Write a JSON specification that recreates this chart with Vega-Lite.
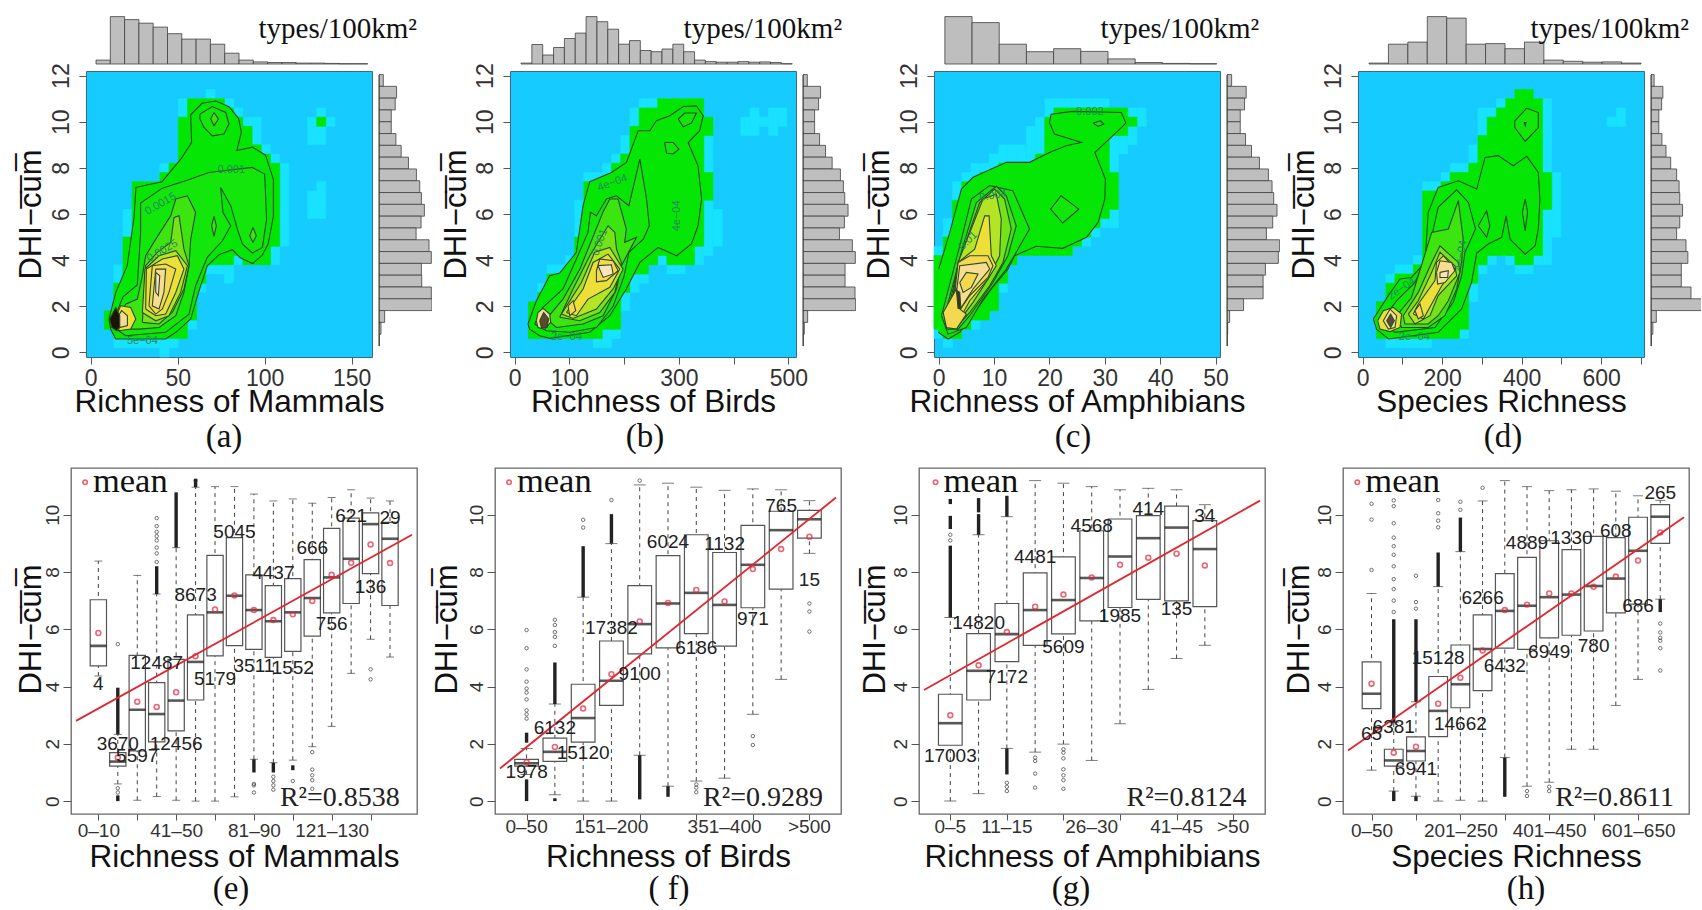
{"$schema":"https://vega.github.io/schema/vega-lite/v6.json","padding":{"left":14,"top":4,"right":0,"bottom":0},"background":"white","config":{"font":"Liberation Sans","view":{"stroke":null},"axis":{"grid":false,"domain":false,"labelColor":"#333","tickColor":"#555","titleColor":"#111","labelOverlap":false,"titleFontWeight":"normal","labelFlush":false},"title":{"fontWeight":"normal","color":"#111"}},
"datasets":{
"ha":[{"i":3,"a":1,"b":10,"v":1},{"i":4,"a":1,"b":16,"v":1},{"i":5,"a":1,"b":19,"v":1},{"i":6,"a":1,"b":19,"v":1},{"i":7,"a":1,"b":19,"v":1},{"i":8,"a":0,"b":21,"v":1},{"i":9,"a":1,"b":21,"v":1},{"i":10,"a":2,"b":28,"v":1},{"i":11,"a":3,"b":28,"v":1},{"i":12,"a":7,"b":28,"v":1},{"i":13,"a":9,"b":29,"v":1},{"i":14,"a":9,"b":28,"v":1},{"i":15,"a":8,"b":28,"v":1},{"i":16,"a":10,"b":27,"v":1},{"i":17,"a":10,"b":26,"v":1},{"i":18,"a":10,"b":26,"v":1},{"i":19,"a":10,"b":23,"v":1},{"i":20,"a":10,"b":22,"v":1},{"i":21,"a":12,"b":21,"v":1},{"i":24,"a":15,"b":18,"v":1},{"i":24,"a":23,"b":26,"v":1},{"i":25,"a":15,"b":19,"v":1},{"i":25,"a":23,"b":27,"v":1},{"i":26,"a":25,"b":26,"v":1},{"i":2,"a":3,"b":5,"v":2},{"i":3,"a":2,"b":8,"v":2},{"i":4,"a":2,"b":13,"v":2},{"i":5,"a":2,"b":19,"v":2},{"i":6,"a":2,"b":19,"v":2},{"i":7,"a":2,"b":19,"v":2},{"i":8,"a":2,"b":20,"v":2},{"i":9,"a":2,"b":21,"v":2},{"i":10,"a":2,"b":26,"v":2},{"i":11,"a":4,"b":28,"v":2},{"i":12,"a":8,"b":28,"v":2},{"i":13,"a":10,"b":28,"v":2},{"i":14,"a":10,"b":28,"v":2},{"i":15,"a":10,"b":27,"v":2},{"i":16,"a":11,"b":26,"v":2},{"i":17,"a":10,"b":25,"v":2},{"i":18,"a":10,"b":23,"v":2},{"i":19,"a":10,"b":22,"v":2},{"i":20,"a":12,"b":21,"v":2},{"i":25,"a":25,"b":26,"v":2}],
"hb":[{"i":3,"a":2,"b":8,"v":1},{"i":4,"a":2,"b":10,"v":1},{"i":5,"a":2,"b":10,"v":1},{"i":6,"a":2,"b":11,"v":1},{"i":7,"a":2,"b":17,"v":1},{"i":8,"a":2,"b":20,"v":1},{"i":9,"a":1,"b":20,"v":1},{"i":10,"a":1,"b":21,"v":1},{"i":11,"a":2,"b":22,"v":1},{"i":12,"a":5,"b":24,"v":1},{"i":13,"a":7,"b":27,"v":1},{"i":14,"a":8,"b":28,"v":1},{"i":15,"a":10,"b":28,"v":1},{"i":16,"a":10,"b":28,"v":1},{"i":17,"a":9,"b":28,"v":1},{"i":18,"a":9,"b":28,"v":1},{"i":19,"a":10,"b":28,"v":1},{"i":20,"a":10,"b":27,"v":1},{"i":21,"a":11,"b":26,"v":1},{"i":22,"a":12,"b":16,"v":1},{"i":25,"a":24,"b":26,"v":1},{"i":26,"a":24,"b":27,"v":1},{"i":27,"a":25,"b":26,"v":1},{"i":28,"a":24,"b":27,"v":1},{"i":29,"a":25,"b":27,"v":1},{"i":2,"a":2,"b":6,"v":2},{"i":3,"a":2,"b":7,"v":2},{"i":4,"a":2,"b":9,"v":2},{"i":5,"a":2,"b":9,"v":2},{"i":6,"a":2,"b":10,"v":2},{"i":7,"a":2,"b":13,"v":2},{"i":8,"a":2,"b":19,"v":2},{"i":9,"a":2,"b":19,"v":2},{"i":10,"a":3,"b":19,"v":2},{"i":11,"a":3,"b":21,"v":2},{"i":12,"a":7,"b":22,"v":2},{"i":13,"a":9,"b":25,"v":2},{"i":14,"a":9,"b":27,"v":2},{"i":15,"a":10,"b":27,"v":2},{"i":16,"a":11,"b":28,"v":2},{"i":17,"a":10,"b":28,"v":2},{"i":18,"a":10,"b":28,"v":2},{"i":19,"a":10,"b":28,"v":2},{"i":20,"a":12,"b":28,"v":2},{"i":21,"a":17,"b":20,"v":2},{"i":21,"a":24,"b":26,"v":2}],
"hc":[{"i":0,"a":2,"b":12,"v":1},{"i":1,"a":1,"b":15,"v":1},{"i":2,"a":2,"b":19,"v":1},{"i":3,"a":3,"b":20,"v":1},{"i":4,"a":3,"b":21,"v":1},{"i":5,"a":4,"b":21,"v":1},{"i":6,"a":5,"b":22,"v":1},{"i":7,"a":7,"b":23,"v":1},{"i":8,"a":10,"b":23,"v":1},{"i":9,"a":11,"b":23,"v":1},{"i":10,"a":11,"b":25,"v":1},{"i":11,"a":11,"b":26,"v":1},{"i":12,"a":11,"b":28,"v":1},{"i":13,"a":11,"b":28,"v":1},{"i":14,"a":11,"b":28,"v":1},{"i":15,"a":12,"b":28,"v":1},{"i":16,"a":12,"b":28,"v":1},{"i":17,"a":13,"b":28,"v":1},{"i":18,"a":14,"b":28,"v":1},{"i":19,"a":14,"b":27,"v":1},{"i":20,"a":22,"b":27,"v":1},{"i":21,"a":23,"b":27,"v":1},{"i":22,"a":25,"b":27,"v":1},{"i":0,"a":3,"b":11,"v":2},{"i":1,"a":2,"b":13,"v":2},{"i":2,"a":2,"b":17,"v":2},{"i":3,"a":3,"b":19,"v":2},{"i":4,"a":4,"b":19,"v":2},{"i":5,"a":4,"b":20,"v":2},{"i":6,"a":5,"b":20,"v":2},{"i":7,"a":8,"b":21,"v":2},{"i":8,"a":10,"b":21,"v":2},{"i":9,"a":11,"b":21,"v":2},{"i":10,"a":11,"b":21,"v":2},{"i":11,"a":11,"b":22,"v":2},{"i":12,"a":11,"b":26,"v":2},{"i":13,"a":11,"b":27,"v":2},{"i":14,"a":11,"b":27,"v":2},{"i":15,"a":12,"b":27,"v":2},{"i":16,"a":13,"b":27,"v":2},{"i":17,"a":14,"b":27,"v":2},{"i":18,"a":15,"b":27,"v":2},{"i":19,"a":16,"b":20,"v":2},{"i":19,"a":24,"b":27,"v":2},{"i":20,"a":24,"b":27,"v":2},{"i":21,"a":25,"b":26,"v":2}],
"hd":[{"i":3,"a":1,"b":9,"v":1},{"i":4,"a":1,"b":10,"v":1},{"i":5,"a":1,"b":10,"v":1},{"i":6,"a":1,"b":11,"v":1},{"i":7,"a":1,"b":19,"v":1},{"i":8,"a":2,"b":19,"v":1},{"i":9,"a":2,"b":20,"v":1},{"i":10,"a":2,"b":21,"v":1},{"i":11,"a":2,"b":21,"v":1},{"i":12,"a":6,"b":23,"v":1},{"i":13,"a":9,"b":27,"v":1},{"i":14,"a":10,"b":27,"v":1},{"i":15,"a":11,"b":28,"v":1},{"i":16,"a":10,"b":28,"v":1},{"i":17,"a":9,"b":29,"v":1},{"i":18,"a":9,"b":29,"v":1},{"i":19,"a":10,"b":28,"v":1},{"i":20,"a":10,"b":28,"v":1},{"i":21,"a":13,"b":20,"v":1},{"i":27,"a":25,"b":26,"v":1},{"i":28,"a":25,"b":27,"v":1},{"i":2,"a":2,"b":6,"v":2},{"i":3,"a":2,"b":8,"v":2},{"i":4,"a":2,"b":9,"v":2},{"i":5,"a":2,"b":9,"v":2},{"i":6,"a":2,"b":10,"v":2},{"i":7,"a":2,"b":18,"v":2},{"i":8,"a":2,"b":18,"v":2},{"i":9,"a":2,"b":19,"v":2},{"i":10,"a":2,"b":20,"v":2},{"i":11,"a":3,"b":20,"v":2},{"i":12,"a":8,"b":21,"v":2},{"i":13,"a":10,"b":24,"v":2},{"i":14,"a":11,"b":26,"v":2},{"i":15,"a":11,"b":27,"v":2},{"i":16,"a":11,"b":28,"v":2},{"i":17,"a":10,"b":29,"v":2},{"i":18,"a":10,"b":29,"v":2},{"i":19,"a":11,"b":28,"v":2},{"i":20,"a":16,"b":20,"v":2}],
"ca":[{"p":1,"l":1,"x":10.5,"y":1.45},{"p":1,"l":1,"x":14.4,"y":2.6},{"p":1,"l":1,"x":21,"y":3.76},{"p":1,"l":1,"x":25,"y":5.9},{"p":1,"l":1,"x":26,"y":7.15},{"p":1,"l":1,"x":31.6,"y":7.25},{"p":1,"l":1,"x":41,"y":7.4},{"p":1,"l":1,"x":52,"y":8.4},{"p":1,"l":1,"x":58,"y":9.1},{"p":1,"l":1,"x":57.5,"y":10.3},{"p":1,"l":1,"x":64,"y":10.8},{"p":1,"l":1,"x":72,"y":10.9},{"p":1,"l":1,"x":79.5,"y":10.65},{"p":1,"l":1,"x":85,"y":10.15},{"p":1,"l":1,"x":86.6,"y":9.55},{"p":1,"l":1,"x":84,"y":8.75},{"p":1,"l":1,"x":93,"y":8.9},{"p":1,"l":1,"x":100.5,"y":8.55},{"p":1,"l":1,"x":105,"y":7.5},{"p":1,"l":1,"x":105,"y":5.9},{"p":1,"l":1,"x":102,"y":4.7},{"p":1,"l":1,"x":98.5,"y":4.2},{"p":1,"l":1,"x":93,"y":3.85},{"p":1,"l":1,"x":86,"y":4.1},{"p":1,"l":1,"x":81.5,"y":4.45},{"p":1,"l":1,"x":74,"y":4.25},{"p":1,"l":1,"x":67,"y":3.75},{"p":1,"l":1,"x":62,"y":2.6},{"p":1,"l":1,"x":57.5,"y":1.45},{"p":1,"l":1,"x":49,"y":0.87},{"p":1,"l":1,"x":43,"y":0.58},{"p":1,"l":1,"x":14.4,"y":0.58},{"p":1,"l":1,"x":11.5,"y":1},{"p":1,"l":1,"x":10.5,"y":1.45},
{"p":2,"l":2,"x":13.4,"y":1.45},{"p":2,"l":2,"x":18.6,"y":2.41},{"p":2,"l":2,"x":26.8,"y":2.92},{"p":2,"l":2,"x":28.7,"y":5.2},{"p":2,"l":2,"x":28.7,"y":6.47},{"p":2,"l":2,"x":41.2,"y":7.12},{"p":2,"l":2,"x":54.6,"y":7.44},{"p":2,"l":2,"x":68,"y":7.8},{"p":2,"l":2,"x":92.9,"y":8.02},{"p":2,"l":2,"x":100,"y":7.73},{"p":2,"l":2,"x":101.1,"y":5.78},{"p":2,"l":2,"x":98.7,"y":4.55},{"p":2,"l":2,"x":92.9,"y":4.31},{"p":2,"l":2,"x":87.2,"y":4.7},{"p":2,"l":2,"x":84.3,"y":5.35},{"p":2,"l":2,"x":80.5,"y":6.36},{"p":2,"l":2,"x":74.7,"y":7.15},{"p":2,"l":2,"x":76,"y":6.07},{"p":2,"l":2,"x":80.5,"y":5.49},{"p":2,"l":2,"x":75.7,"y":4.84},{"p":2,"l":2,"x":67,"y":4.12},{"p":2,"l":2,"x":60.3,"y":2.89},{"p":2,"l":2,"x":56.5,"y":1.66},{"p":2,"l":2,"x":43.1,"y":0.87},{"p":2,"l":2,"x":20.1,"y":0.72},{"p":2,"l":2,"x":13.4,"y":1.08},{"p":2,"l":2,"x":13.4,"y":1.45},
{"p":3,"l":2,"x":62.8,"y":10.33},{"p":3,"l":2,"x":69.9,"y":10.66},{"p":3,"l":2,"x":77.6,"y":10.4},{"p":3,"l":2,"x":79.5,"y":9.9},{"p":3,"l":2,"x":76.6,"y":9.47},{"p":3,"l":2,"x":69.9,"y":9.39},{"p":3,"l":2,"x":65.1,"y":9.75},{"p":3,"l":2,"x":62.8,"y":10.12},{"p":3,"l":2,"x":62.8,"y":10.33},
{"p":4,"l":3,"x":70.9,"y":10.4},{"p":4,"l":3,"x":73.4,"y":10.12},{"p":4,"l":3,"x":70.9,"y":9.83},{"p":4,"l":3,"x":69,"y":10.12},{"p":4,"l":3,"x":70.9,"y":10.4},
{"p":5,"l":3,"x":70.9,"y":5.9},{"p":5,"l":3,"x":72.2,"y":5.49},{"p":5,"l":3,"x":70.9,"y":5.03},{"p":5,"l":3,"x":69.5,"y":5.49},{"p":5,"l":3,"x":70.9,"y":5.9},
{"p":6,"l":3,"x":93.3,"y":5.42},{"p":6,"l":3,"x":95.2,"y":5.06},{"p":6,"l":3,"x":93.3,"y":4.77},{"p":6,"l":3,"x":91.4,"y":5.06},{"p":6,"l":3,"x":93.3,"y":5.42},
{"p":7,"l":3,"x":16.3,"y":1.59},{"p":7,"l":3,"x":20.1,"y":2.09},{"p":7,"l":3,"x":26.8,"y":2.31},{"p":7,"l":3,"x":29.7,"y":3.32},{"p":7,"l":3,"x":31.6,"y":4.19},{"p":7,"l":3,"x":37.4,"y":4.91},{"p":7,"l":3,"x":46,"y":5.92},{"p":7,"l":3,"x":48.9,"y":6.65},{"p":7,"l":3,"x":55.6,"y":6.79},{"p":7,"l":3,"x":60.3,"y":6.07},{"p":7,"l":3,"x":57.5,"y":4.91},{"p":7,"l":3,"x":56.5,"y":3.76},{"p":7,"l":3,"x":53.6,"y":2.6},{"p":7,"l":3,"x":48.9,"y":1.59},{"p":7,"l":3,"x":39.3,"y":1.08},{"p":7,"l":3,"x":27.8,"y":1.01},{"p":7,"l":3,"x":19.2,"y":1.01},{"p":7,"l":3,"x":16.3,"y":1.59},
{"p":8,"l":4,"x":29.7,"y":1.3},{"p":8,"l":4,"x":30.7,"y":2.6},{"p":8,"l":4,"x":31.6,"y":3.76},{"p":8,"l":4,"x":38.3,"y":4.34},{"p":8,"l":4,"x":46,"y":4.77},{"p":8,"l":4,"x":47.9,"y":5.85},{"p":8,"l":4,"x":50.8,"y":5.92},{"p":8,"l":4,"x":53.6,"y":4.48},{"p":8,"l":4,"x":56.5,"y":3.76},{"p":8,"l":4,"x":53.6,"y":2.75},{"p":8,"l":4,"x":46.9,"y":1.73},{"p":8,"l":4,"x":39.3,"y":1.23},{"p":8,"l":4,"x":29.7,"y":1.3},
{"p":9,"l":5,"x":29.7,"y":1.73},{"p":9,"l":5,"x":31.2,"y":3.61},{"p":9,"l":5,"x":39.3,"y":4.19},{"p":9,"l":5,"x":48.9,"y":4.41},{"p":9,"l":5,"x":55.6,"y":3.76},{"p":9,"l":5,"x":51.7,"y":2.6},{"p":9,"l":5,"x":45,"y":1.59},{"p":9,"l":5,"x":37.4,"y":1.37},{"p":9,"l":5,"x":29.7,"y":1.73},
{"p":10,"l":6,"x":31.6,"y":1.88},{"p":10,"l":6,"x":32,"y":3.61},{"p":10,"l":6,"x":41.2,"y":4.05},{"p":10,"l":6,"x":49.8,"y":4.19},{"p":10,"l":6,"x":53.6,"y":3.61},{"p":10,"l":6,"x":48.9,"y":2.6},{"p":10,"l":6,"x":43.1,"y":1.66},{"p":10,"l":6,"x":37.4,"y":1.59},{"p":10,"l":6,"x":31.6,"y":1.88},
{"p":11,"l":7,"x":33.5,"y":2.02},{"p":11,"l":7,"x":35.4,"y":3.76},{"p":11,"l":7,"x":43.1,"y":3.83},{"p":11,"l":7,"x":48.9,"y":3.61},{"p":11,"l":7,"x":45,"y":2.6},{"p":11,"l":7,"x":41.2,"y":1.88},{"p":11,"l":7,"x":37.4,"y":1.66},{"p":11,"l":7,"x":33.5,"y":2.02},
{"p":12,"l":8,"x":37.4,"y":3.61},{"p":12,"l":8,"x":43.1,"y":3.61},{"p":12,"l":8,"x":42.1,"y":2.6},{"p":12,"l":8,"x":39.3,"y":1.88},{"p":12,"l":8,"x":35.4,"y":2.02},{"p":12,"l":8,"x":37.4,"y":3.61},
{"p":13,"l":9,"x":37.4,"y":3.47},{"p":13,"l":9,"x":39.7,"y":3.32},{"p":13,"l":9,"x":38.9,"y":2.46},{"p":13,"l":9,"x":37.4,"y":2.6},{"p":13,"l":9,"x":37.4,"y":3.47},
{"p":14,"l":6,"x":14.4,"y":1.52},{"p":14,"l":6,"x":17.2,"y":2.02},{"p":14,"l":6,"x":23,"y":1.95},{"p":14,"l":6,"x":25.9,"y":1.45},{"p":14,"l":6,"x":23,"y":1.01},{"p":14,"l":6,"x":16.3,"y":0.94},{"p":14,"l":6,"x":14.4,"y":1.52},
{"p":15,"l":8,"x":15.3,"y":1.52},{"p":15,"l":8,"x":17.8,"y":1.81},{"p":15,"l":8,"x":21.1,"y":1.59},{"p":15,"l":8,"x":21.1,"y":1.16},{"p":15,"l":8,"x":16.7,"y":1.08},{"p":15,"l":8,"x":15.3,"y":1.52},
{"p":16,"l":10,"x":10.9,"y":1.45},{"p":16,"l":10,"x":14.4,"y":1.95},{"p":16,"l":10,"x":16.7,"y":1.59},{"p":16,"l":10,"x":16.7,"y":1.08},{"p":16,"l":10,"x":14.8,"y":0.94},{"p":16,"l":10,"x":12.1,"y":1.08},{"p":16,"l":10,"x":10.9,"y":1.45}],
"cb":[{"p":1,"l":1,"x":24.4,"y":1.23},{"p":1,"l":1,"x":39.6,"y":2.24},{"p":1,"l":1,"x":64,"y":3.32},{"p":1,"l":1,"x":82.3,"y":3.44},{"p":1,"l":1,"x":112.8,"y":4.34},{"p":1,"l":1,"x":125,"y":6.36},{"p":1,"l":1,"x":137.2,"y":7.4},{"p":1,"l":1,"x":176.8,"y":7.8},{"p":1,"l":1,"x":204.3,"y":8.24},{"p":1,"l":1,"x":225.6,"y":9.61},{"p":1,"l":1,"x":247,"y":9.61},{"p":1,"l":1,"x":259,"y":10.04},{"p":1,"l":1,"x":283.5,"y":10.26},{"p":1,"l":1,"x":308,"y":10.66},{"p":1,"l":1,"x":332,"y":10.69},{"p":1,"l":1,"x":344.5,"y":10.26},{"p":1,"l":1,"x":338,"y":9.61},{"p":1,"l":1,"x":317,"y":9.1},{"p":1,"l":1,"x":335,"y":8.09},{"p":1,"l":1,"x":341.5,"y":6.65},{"p":1,"l":1,"x":335,"y":5.49},{"p":1,"l":1,"x":323,"y":4.7},{"p":1,"l":1,"x":296,"y":4.19},{"p":1,"l":1,"x":262,"y":4.55},{"p":1,"l":1,"x":228.7,"y":3.9},{"p":1,"l":1,"x":204,"y":2.75},{"p":1,"l":1,"x":173.8,"y":1.59},{"p":1,"l":1,"x":137,"y":0.87},{"p":1,"l":1,"x":64,"y":0.61},{"p":1,"l":1,"x":45.7,"y":0.72},{"p":1,"l":1,"x":27.4,"y":1.01},{"p":1,"l":1,"x":24.4,"y":1.23},
{"p":2,"l":2,"x":298.8,"y":10.12},{"p":2,"l":2,"x":311,"y":10.38},{"p":2,"l":2,"x":332,"y":10.38},{"p":2,"l":2,"x":323,"y":9.94},{"p":2,"l":2,"x":308,"y":9.78},{"p":2,"l":2,"x":298.8,"y":10.12},
{"p":3,"l":2,"x":274,"y":9.1},{"p":3,"l":2,"x":289.6,"y":9.1},{"p":3,"l":2,"x":300,"y":8.81},{"p":3,"l":2,"x":289.6,"y":8.6},{"p":3,"l":2,"x":277.4,"y":8.64},{"p":3,"l":2,"x":274,"y":9.1},
{"p":4,"l":2,"x":36.6,"y":1.23},{"p":4,"l":2,"x":51.8,"y":1.95},{"p":4,"l":2,"x":88.4,"y":2.75},{"p":4,"l":2,"x":112.8,"y":4.05},{"p":4,"l":2,"x":134,"y":5.2},{"p":4,"l":2,"x":138.4,"y":6.07},{"p":4,"l":2,"x":149.4,"y":5.92},{"p":4,"l":2,"x":167.7,"y":6.65},{"p":4,"l":2,"x":186,"y":6.79},{"p":4,"l":2,"x":208.7,"y":6.36},{"p":4,"l":2,"x":228.7,"y":8.38},{"p":4,"l":2,"x":241,"y":6.65},{"p":4,"l":2,"x":246,"y":5.49},{"p":4,"l":2,"x":235,"y":4.91},{"p":4,"l":2,"x":208.7,"y":4.34},{"p":4,"l":2,"x":200,"y":3.32},{"p":4,"l":2,"x":179.9,"y":2},{"p":4,"l":2,"x":149.4,"y":1.08},{"p":4,"l":2,"x":100.6,"y":0.87},{"p":4,"l":2,"x":57.9,"y":0.94},{"p":4,"l":2,"x":36.6,"y":1.23},
{"p":5,"l":3,"x":57.9,"y":1.45},{"p":5,"l":3,"x":88.4,"y":2.31},{"p":5,"l":3,"x":119,"y":3.6},{"p":5,"l":3,"x":146.3,"y":5.2},{"p":5,"l":3,"x":161.6,"y":6.1},{"p":5,"l":3,"x":173.8,"y":6.65},{"p":5,"l":3,"x":189,"y":6.65},{"p":5,"l":3,"x":204,"y":5.35},{"p":5,"l":3,"x":201,"y":4.77},{"p":5,"l":3,"x":222.6,"y":4.99},{"p":5,"l":3,"x":195,"y":3.76},{"p":5,"l":3,"x":186,"y":2.75},{"p":5,"l":3,"x":161.6,"y":1.59},{"p":5,"l":3,"x":125,"y":1.23},{"p":5,"l":3,"x":76.2,"y":1.08},{"p":5,"l":3,"x":57.9,"y":1.45},
{"p":6,"l":4,"x":82.3,"y":1.52},{"p":6,"l":4,"x":106.7,"y":2.75},{"p":6,"l":4,"x":137.2,"y":4.19},{"p":6,"l":4,"x":170.7,"y":5.49},{"p":6,"l":4,"x":183,"y":5.2},{"p":6,"l":4,"x":186,"y":4.48},{"p":6,"l":4,"x":195,"y":3.9},{"p":6,"l":4,"x":183,"y":2.6},{"p":6,"l":4,"x":155.5,"y":1.73},{"p":6,"l":4,"x":118.9,"y":1.37},{"p":6,"l":4,"x":82.3,"y":1.52},
{"p":7,"l":5,"x":85.4,"y":1.66},{"p":7,"l":5,"x":122,"y":3.03},{"p":7,"l":5,"x":146.3,"y":4.34},{"p":7,"l":5,"x":173.8,"y":4.55},{"p":7,"l":5,"x":198,"y":3.61},{"p":7,"l":5,"x":179.9,"y":2.75},{"p":7,"l":5,"x":149.4,"y":1.88},{"p":7,"l":5,"x":106.7,"y":1.47},{"p":7,"l":5,"x":85.4,"y":1.66},
{"p":8,"l":6,"x":94.5,"y":1.73},{"p":8,"l":6,"x":125,"y":2.75},{"p":8,"l":6,"x":143.3,"y":3.9},{"p":8,"l":6,"x":170.7,"y":4.26},{"p":8,"l":6,"x":192,"y":3.61},{"p":8,"l":6,"x":173.8,"y":2.82},{"p":8,"l":6,"x":134,"y":2.31},{"p":8,"l":6,"x":112.8,"y":1.59},{"p":8,"l":6,"x":94.5,"y":1.73},
{"p":9,"l":7,"x":149.4,"y":3.54},{"p":9,"l":7,"x":155.5,"y":4.05},{"p":9,"l":7,"x":180,"y":3.97},{"p":9,"l":7,"x":189,"y":3.54},{"p":9,"l":7,"x":167.7,"y":3.11},{"p":9,"l":7,"x":149.4,"y":3.06},{"p":9,"l":7,"x":149.4,"y":3.54},
{"p":10,"l":9,"x":152.4,"y":3.76},{"p":10,"l":9,"x":176.8,"y":3.8},{"p":10,"l":9,"x":179.9,"y":3.4},{"p":10,"l":9,"x":161.6,"y":3.25},{"p":10,"l":9,"x":152.4,"y":3.76},
{"p":11,"l":7,"x":97.6,"y":2.02},{"p":11,"l":7,"x":106.7,"y":2.24},{"p":11,"l":7,"x":111.6,"y":1.81},{"p":11,"l":7,"x":100.6,"y":1.59},{"p":11,"l":7,"x":97.6,"y":2.02},
{"p":12,"l":8,"x":39.6,"y":1.37},{"p":12,"l":8,"x":42.7,"y":1.73},{"p":12,"l":8,"x":51.8,"y":1.91},{"p":12,"l":8,"x":64,"y":1.66},{"p":12,"l":8,"x":65.9,"y":1.3},{"p":12,"l":8,"x":54.9,"y":1.01},{"p":12,"l":8,"x":42.7,"y":1.08},{"p":12,"l":8,"x":39.6,"y":1.37},
{"p":13,"l":10,"x":45.7,"y":1.37},{"p":13,"l":10,"x":53,"y":1.73},{"p":13,"l":10,"x":62.2,"y":1.45},{"p":13,"l":10,"x":59.1,"y":1.08},{"p":13,"l":10,"x":48.8,"y":1.08},{"p":13,"l":10,"x":45.7,"y":1.37}],
"cc":[{"p":1,"l":1,"x":-0.1,"y":0.87},{"p":1,"l":1,"x":1.7,"y":0.58},{"p":1,"l":1,"x":3.8,"y":0.87},{"p":1,"l":1,"x":6.5,"y":1.73},{"p":1,"l":1,"x":9.5,"y":2.75},{"p":1,"l":1,"x":12.5,"y":3.61},{"p":1,"l":1,"x":13.7,"y":4.19},{"p":1,"l":1,"x":17.6,"y":4.6},{"p":1,"l":1,"x":22.4,"y":4.51},{"p":1,"l":1,"x":26.7,"y":4.99},{"p":1,"l":1,"x":28.8,"y":5.64},{"p":1,"l":1,"x":30,"y":6.65},{"p":1,"l":1,"x":30.1,"y":7.51},{"p":1,"l":1,"x":28.2,"y":8.67},{"p":1,"l":1,"x":32.1,"y":9.54},{"p":1,"l":1,"x":33.8,"y":9.94},{"p":1,"l":1,"x":33,"y":10.4},{"p":1,"l":1,"x":24.2,"y":10.45},{"p":1,"l":1,"x":20.3,"y":10.33},{"p":1,"l":1,"x":20,"y":9.97},{"p":1,"l":1,"x":20.9,"y":9.47},{"p":1,"l":1,"x":25.8,"y":9.1},{"p":1,"l":1,"x":23,"y":8.96},{"p":1,"l":1,"x":20,"y":8.67},{"p":1,"l":1,"x":16.4,"y":8.24},{"p":1,"l":1,"x":12.2,"y":8.24},{"p":1,"l":1,"x":9.8,"y":7.98},{"p":1,"l":1,"x":6.2,"y":7.59},{"p":1,"l":1,"x":4.1,"y":7.08},{"p":1,"l":1,"x":2,"y":5.2},{"p":1,"l":1,"x":0,"y":3.61},
{"p":2,"l":2,"x":20.2,"y":6.21},{"p":2,"l":2,"x":22.1,"y":6.79},{"p":2,"l":2,"x":25.3,"y":6.21},{"p":2,"l":2,"x":22.4,"y":5.61},{"p":2,"l":2,"x":20.2,"y":6.21},
{"p":3,"l":2,"x":27.9,"y":9.94},{"p":3,"l":2,"x":29.2,"y":10.04},{"p":3,"l":2,"x":29.8,"y":9.9},{"p":3,"l":2,"x":28.8,"y":9.8},{"p":3,"l":2,"x":27.9,"y":9.94},
{"p":4,"l":2,"x":0.5,"y":1.59},{"p":4,"l":2,"x":3.8,"y":4.62},{"p":4,"l":2,"x":5.9,"y":6.65},{"p":4,"l":2,"x":9.2,"y":7.23},{"p":4,"l":2,"x":13.4,"y":7.01},{"p":4,"l":2,"x":16.4,"y":5.35},{"p":4,"l":2,"x":14,"y":4.34},{"p":4,"l":2,"x":12.2,"y":3.61},{"p":4,"l":2,"x":8,"y":2.31},{"p":4,"l":2,"x":5,"y":1.08},{"p":4,"l":2,"x":1.7,"y":0.79},{"p":4,"l":2,"x":0.5,"y":1.59},
{"p":5,"l":3,"x":1.1,"y":1.59},{"p":5,"l":3,"x":4.4,"y":4.62},{"p":5,"l":3,"x":6.8,"y":6.5},{"p":5,"l":3,"x":10.4,"y":7.2},{"p":5,"l":3,"x":12.2,"y":6.79},{"p":5,"l":3,"x":14,"y":5.49},{"p":5,"l":3,"x":12.5,"y":4.19},{"p":5,"l":3,"x":9.8,"y":3.03},{"p":5,"l":3,"x":5.6,"y":1.59},{"p":5,"l":3,"x":3.5,"y":1.01},{"p":5,"l":3,"x":1.4,"y":1.01},{"p":5,"l":3,"x":1.1,"y":1.59},
{"p":6,"l":4,"x":1.5,"y":1.59},{"p":6,"l":4,"x":3.8,"y":4.05},{"p":6,"l":4,"x":7.4,"y":6.5},{"p":6,"l":4,"x":10.1,"y":7.08},{"p":6,"l":4,"x":11.9,"y":6.65},{"p":6,"l":4,"x":13.1,"y":5.35},{"p":6,"l":4,"x":11.6,"y":3.9},{"p":6,"l":4,"x":9.2,"y":2.89},{"p":6,"l":4,"x":5.6,"y":1.73},{"p":6,"l":4,"x":3.2,"y":1.08},{"p":6,"l":4,"x":1.5,"y":1.59},
{"p":7,"l":5,"x":2,"y":1.59},{"p":7,"l":5,"x":3.5,"y":3.9},{"p":7,"l":5,"x":8,"y":6.65},{"p":7,"l":5,"x":10.4,"y":6.86},{"p":7,"l":5,"x":11.3,"y":5.78},{"p":7,"l":5,"x":11,"y":4.19},{"p":7,"l":5,"x":8.9,"y":3.18},{"p":7,"l":5,"x":6.2,"y":2.17},{"p":7,"l":5,"x":3.5,"y":1.3},{"p":7,"l":5,"x":2,"y":1.59},
{"p":8,"l":6,"x":2.3,"y":1.66},{"p":8,"l":6,"x":3.5,"y":3.9},{"p":8,"l":6,"x":6.5,"y":4.48},{"p":8,"l":6,"x":8.3,"y":5.92},{"p":8,"l":6,"x":9.1,"y":5.92},{"p":8,"l":6,"x":9.5,"y":4.19},{"p":8,"l":6,"x":10.4,"y":3.76},{"p":8,"l":6,"x":8.9,"y":3.18},{"p":8,"l":6,"x":5.6,"y":2.24},{"p":8,"l":6,"x":3.8,"y":1.45},{"p":8,"l":6,"x":2.3,"y":1.66},
{"p":9,"l":7,"x":2.6,"y":1.88},{"p":9,"l":7,"x":3.5,"y":3.9},{"p":9,"l":7,"x":5.6,"y":4.19},{"p":9,"l":7,"x":8.9,"y":4.19},{"p":9,"l":7,"x":9.8,"y":3.76},{"p":9,"l":7,"x":8.9,"y":3.25},{"p":9,"l":7,"x":5.6,"y":2.46},{"p":9,"l":7,"x":3.5,"y":1.73},{"p":9,"l":7,"x":2.6,"y":1.88},
{"p":10,"l":8,"x":2.9,"y":2.02},{"p":10,"l":8,"x":3.8,"y":3.76},{"p":10,"l":8,"x":8.6,"y":3.9},{"p":10,"l":8,"x":9.2,"y":3.61},{"p":10,"l":8,"x":6.2,"y":2.75},{"p":10,"l":8,"x":4.1,"y":1.95},{"p":10,"l":8,"x":2.9,"y":2.02},
{"p":11,"l":7,"x":3.8,"y":3.03},{"p":11,"l":7,"x":5,"y":3.47},{"p":11,"l":7,"x":7.1,"y":3.4},{"p":11,"l":7,"x":5.9,"y":2.82},{"p":11,"l":7,"x":4.4,"y":2.6},{"p":11,"l":7,"x":3.8,"y":3.03},
{"p":12,"l":7,"x":0.8,"y":1.73},{"p":12,"l":7,"x":3.2,"y":2.75},{"p":12,"l":7,"x":3.8,"y":1.88},{"p":12,"l":7,"x":5,"y":1.66},{"p":12,"l":7,"x":3.2,"y":1.01},{"p":12,"l":7,"x":1.4,"y":1.08},{"p":12,"l":7,"x":0.8,"y":1.73},
{"p":13,"l":10,"x":3.2,"y":2.7},{"p":13,"l":10,"x":3.8,"y":2.6},{"p":13,"l":10,"x":4,"y":1.9},{"p":13,"l":10,"x":3.5,"y":1.9},{"p":13,"l":10,"x":3.2,"y":2.7}],
"cd":[{"p":1,"l":1,"x":26.8,"y":1.45},{"p":1,"l":1,"x":64.6,"y":2.46},{"p":1,"l":1,"x":94,"y":3.18},{"p":1,"l":1,"x":123,"y":3.25},{"p":1,"l":1,"x":157,"y":3.9},{"p":1,"l":1,"x":165,"y":6.07},{"p":1,"l":1,"x":190,"y":7.15},{"p":1,"l":1,"x":241,"y":7.44},{"p":1,"l":1,"x":287,"y":7.08},{"p":1,"l":1,"x":308,"y":8.45},{"p":1,"l":1,"x":341,"y":8.53},{"p":1,"l":1,"x":379,"y":8.09},{"p":1,"l":1,"x":413,"y":8.5},{"p":1,"l":1,"x":442,"y":7.8},{"p":1,"l":1,"x":446,"y":6.65},{"p":1,"l":1,"x":442,"y":5.35},{"p":1,"l":1,"x":434,"y":4.62},{"p":1,"l":1,"x":409,"y":4.26},{"p":1,"l":1,"x":371,"y":4.91},{"p":1,"l":1,"x":361,"y":5.92},{"p":1,"l":1,"x":350,"y":4.99},{"p":1,"l":1,"x":316,"y":4.7},{"p":1,"l":1,"x":287,"y":4.31},{"p":1,"l":1,"x":274,"y":3.03},{"p":1,"l":1,"x":249,"y":1.88},{"p":1,"l":1,"x":190,"y":0.87},{"p":1,"l":1,"x":65,"y":0.58},{"p":1,"l":1,"x":35,"y":1.01},{"p":1,"l":1,"x":26.8,"y":1.45},
{"p":2,"l":2,"x":383,"y":10.04},{"p":2,"l":2,"x":413,"y":10.59},{"p":2,"l":2,"x":442,"y":10.4},{"p":2,"l":2,"x":442,"y":9.75},{"p":2,"l":2,"x":409,"y":9.15},{"p":2,"l":2,"x":383,"y":9.75},{"p":2,"l":2,"x":383,"y":10.04},
{"p":3,"l":3,"x":406,"y":9.97},{"p":3,"l":3,"x":411,"y":9.97},{"p":3,"l":3,"x":409,"y":9.83},{"p":3,"l":3,"x":406,"y":9.97},
{"p":4,"l":2,"x":409,"y":6.65},{"p":4,"l":2,"x":415,"y":6.07},{"p":4,"l":2,"x":409,"y":5.27},{"p":4,"l":2,"x":402,"y":6.07},{"p":4,"l":2,"x":409,"y":6.65},
{"p":5,"l":2,"x":291,"y":5.49},{"p":5,"l":2,"x":312,"y":6.14},{"p":5,"l":2,"x":320,"y":5.49},{"p":5,"l":2,"x":312,"y":4.99},{"p":5,"l":2,"x":291,"y":5.49},
{"p":6,"l":2,"x":47.8,"y":1.37},{"p":6,"l":2,"x":85.6,"y":2.24},{"p":6,"l":2,"x":131.7,"y":3.03},{"p":6,"l":2,"x":165,"y":4.34},{"p":6,"l":2,"x":190,"y":6.29},{"p":6,"l":2,"x":236.6,"y":7.05},{"p":6,"l":2,"x":266,"y":6.5},{"p":6,"l":2,"x":284,"y":5.35},{"p":6,"l":2,"x":257.5,"y":4.34},{"p":6,"l":2,"x":249,"y":3.32},{"p":6,"l":2,"x":228,"y":2.17},{"p":6,"l":2,"x":182,"y":1.08},{"p":6,"l":2,"x":81,"y":0.87},{"p":6,"l":2,"x":47.8,"y":1.37},
{"p":7,"l":3,"x":85.6,"y":1.59},{"p":7,"l":3,"x":123,"y":2.38},{"p":7,"l":3,"x":173.7,"y":5.2},{"p":7,"l":3,"x":215.6,"y":5.35},{"p":7,"l":3,"x":240.8,"y":6.58},{"p":7,"l":3,"x":253,"y":4.91},{"p":7,"l":3,"x":249,"y":3.9},{"p":7,"l":3,"x":236.6,"y":2.75},{"p":7,"l":3,"x":207,"y":1.59},{"p":7,"l":3,"x":165,"y":1.08},{"p":7,"l":3,"x":98,"y":1.08},{"p":7,"l":3,"x":85.6,"y":1.59},
{"p":8,"l":4,"x":102,"y":1.59},{"p":8,"l":4,"x":140,"y":2.6},{"p":8,"l":4,"x":173.7,"y":3.9},{"p":8,"l":4,"x":194.6,"y":4.62},{"p":8,"l":4,"x":240.8,"y":3.9},{"p":8,"l":4,"x":245,"y":3.47},{"p":8,"l":4,"x":215.6,"y":2.24},{"p":8,"l":4,"x":190,"y":1.59},{"p":8,"l":4,"x":165,"y":1.23},{"p":8,"l":4,"x":106.5,"y":1.23},{"p":8,"l":4,"x":102,"y":1.59},
{"p":9,"l":5,"x":115,"y":1.66},{"p":9,"l":5,"x":140,"y":2.24},{"p":9,"l":5,"x":173.7,"y":3.47},{"p":9,"l":5,"x":194.6,"y":4.34},{"p":9,"l":5,"x":232,"y":3.76},{"p":9,"l":5,"x":236.6,"y":3.32},{"p":9,"l":5,"x":190,"y":2.46},{"p":9,"l":5,"x":169.5,"y":1.59},{"p":9,"l":5,"x":131.7,"y":1.23},{"p":9,"l":5,"x":115,"y":1.66},
{"p":10,"l":6,"x":127.5,"y":1.66},{"p":10,"l":6,"x":140,"y":2.1},{"p":10,"l":6,"x":182,"y":3.11},{"p":10,"l":6,"x":186,"y":3.9},{"p":10,"l":6,"x":203,"y":4.19},{"p":10,"l":6,"x":232,"y":3.61},{"p":10,"l":6,"x":199,"y":2.89},{"p":10,"l":6,"x":152.7,"y":1.45},{"p":10,"l":6,"x":127.5,"y":1.66},
{"p":11,"l":8,"x":186,"y":3.47},{"p":11,"l":8,"x":194.6,"y":3.97},{"p":11,"l":8,"x":224,"y":3.9},{"p":11,"l":8,"x":232,"y":3.54},{"p":11,"l":8,"x":207,"y":3.03},{"p":11,"l":8,"x":188.8,"y":2.96},{"p":11,"l":8,"x":186,"y":3.47},
{"p":12,"l":7,"x":131.7,"y":1.81},{"p":12,"l":7,"x":144.3,"y":2.1},{"p":12,"l":7,"x":152.7,"y":1.59},{"p":12,"l":7,"x":140,"y":1.45},{"p":12,"l":7,"x":131.7,"y":1.81},
{"p":13,"l":9,"x":194.6,"y":3.47},{"p":13,"l":9,"x":215.6,"y":3.54},{"p":13,"l":9,"x":214,"y":3.25},{"p":13,"l":9,"x":194.6,"y":3.25},{"p":13,"l":9,"x":194.6,"y":3.47},
{"p":14,"l":6,"x":37.8,"y":1.37},{"p":14,"l":6,"x":52,"y":1.81},{"p":14,"l":6,"x":77.2,"y":1.95},{"p":14,"l":6,"x":98,"y":1.66},{"p":14,"l":6,"x":94,"y":1.08},{"p":14,"l":6,"x":68.8,"y":0.9},{"p":14,"l":6,"x":43.6,"y":1.01},{"p":14,"l":6,"x":37.8,"y":1.37},
{"p":15,"l":8,"x":52,"y":1.37},{"p":15,"l":8,"x":68.8,"y":1.88},{"p":15,"l":8,"x":85.6,"y":1.59},{"p":15,"l":8,"x":81.4,"y":1.08},{"p":15,"l":8,"x":64.6,"y":1.01},{"p":15,"l":8,"x":52,"y":1.37},
{"p":16,"l":10,"x":60.4,"y":1.37},{"p":16,"l":10,"x":70.5,"y":1.66},{"p":16,"l":10,"x":79.7,"y":1.37},{"p":16,"l":10,"x":70.5,"y":1.08},{"p":16,"l":10,"x":60.4,"y":1.37}],
"la":[{"t":"0.001","x":80.8,"y":7.92,"a":0},{"t":"0.0015","x":40.2,"y":6.43,"a":-30},{"t":"5e−04","x":29.7,"y":0.5,"a":0},{"t":"0.0025","x":41.2,"y":4.4,"a":-30}],
"lb":[{"t":"4e−04","x":178.7,"y":7.34,"a":-20},{"t":"4e−04","x":297,"y":5.92,"a":-90},{"t":"2e−04","x":94.5,"y":0.65,"a":0},{"t":"0.001","x":155.5,"y":4.77,"a":-70}],
"lc":[{"t":"0.002","x":27.3,"y":10.43,"a":0},{"t":"0.004","x":9.8,"y":6.79,"a":-10},{"t":"0.01","x":5.3,"y":4.84,"a":-45}],
"ld":[{"t":"2e−04","x":130,"y":0.65,"a":0},{"t":"2e−04","x":98,"y":2.75,"a":-35},{"t":"4e−04","x":247.5,"y":4.19,"a":-80}],
"ta":[{"b":0,"e":10,"n":13},{"b":10,"e":20,"n":158},{"b":20,"e":30,"n":148},{"b":30,"e":40,"n":136},{"b":40,"e":50,"n":123},{"b":50,"e":60,"n":101},{"b":60,"e":70,"n":83},{"b":70,"e":80,"n":83},{"b":80,"e":90,"n":66},{"b":90,"e":100,"n":36},{"b":100,"e":110,"n":13},{"b":110,"e":120,"n":7},{"b":120,"e":130,"n":5},{"b":130,"e":140,"n":5},{"b":140,"e":150,"n":3},{"b":150,"e":160,"n":3},{"b":160,"e":170,"n":2},{"b":170,"e":180,"n":1},{"b":180,"e":190,"n":1}],
"tb":[{"b":0,"e":20,"n":3},{"b":20,"e":40,"n":65},{"b":40,"e":60,"n":30},{"b":60,"e":80,"n":55},{"b":80,"e":100,"n":85},{"b":100,"e":120,"n":103},{"b":120,"e":140,"n":158},{"b":140,"e":160,"n":141},{"b":160,"e":180,"n":116},{"b":180,"e":200,"n":66},{"b":200,"e":220,"n":78},{"b":220,"e":240,"n":45},{"b":240,"e":260,"n":41},{"b":260,"e":280,"n":50},{"b":280,"e":300,"n":66},{"b":300,"e":320,"n":41},{"b":320,"e":340,"n":13},{"b":340,"e":360,"n":8},{"b":360,"e":380,"n":6},{"b":380,"e":400,"n":6},{"b":400,"e":420,"n":8},{"b":420,"e":440,"n":6},{"b":440,"e":460,"n":7},{"b":460,"e":480,"n":5},{"b":480,"e":500,"n":1}],
"tc":[{"b":0,"e":5,"n":158},{"b":5,"e":10,"n":138},{"b":10,"e":15,"n":66},{"b":15,"e":20,"n":41},{"b":20,"e":25,"n":51},{"b":25,"e":30,"n":42},{"b":30,"e":35,"n":17},{"b":35,"e":40,"n":5},{"b":40,"e":45,"n":2},{"b":45,"e":50,"n":1}],
"td":[{"b":0,"e":50,"n":3},{"b":50,"e":100,"n":66},{"b":100,"e":150,"n":73},{"b":150,"e":200,"n":158},{"b":200,"e":250,"n":153},{"b":250,"e":300,"n":66},{"b":300,"e":350,"n":68},{"b":350,"e":400,"n":51},{"b":400,"e":450,"n":73},{"b":450,"e":500,"n":13},{"b":500,"e":550,"n":9},{"b":550,"e":600,"n":6},{"b":600,"e":650,"n":7},{"b":650,"e":700,"n":3}],
"ra":[{"b":11,"e":11.5,"n":13},{"b":10.5,"e":11,"n":53},{"b":10,"e":10.5,"n":49},{"b":9.5,"e":10,"n":37},{"b":9,"e":9.5,"n":37},{"b":8.5,"e":9,"n":51},{"b":8,"e":8.5,"n":67},{"b":7.5,"e":8,"n":89},{"b":7,"e":7.5,"n":113},{"b":6.5,"e":7,"n":123},{"b":6,"e":6.5,"n":128},{"b":5.5,"e":6,"n":137},{"b":5,"e":5.5,"n":127},{"b":4.5,"e":5,"n":112},{"b":4,"e":4.5,"n":151},{"b":3.5,"e":4,"n":158},{"b":3,"e":3.5,"n":128},{"b":2.5,"e":3,"n":129},{"b":2,"e":2.5,"n":158},{"b":1.5,"e":2,"n":160},{"b":1,"e":1.5,"n":17},{"b":0.5,"e":1,"n":6},{"b":0,"e":0.5,"n":1}],
"rb":[{"b":11,"e":11.5,"n":13},{"b":10.5,"e":11,"n":53},{"b":10,"e":10.5,"n":47},{"b":9.5,"e":10,"n":35},{"b":9,"e":9.5,"n":35},{"b":8.5,"e":9,"n":50},{"b":8,"e":8.5,"n":68},{"b":7.5,"e":8,"n":88},{"b":7,"e":7.5,"n":113},{"b":6.5,"e":7,"n":122},{"b":6,"e":6.5,"n":126},{"b":5.5,"e":6,"n":136},{"b":5,"e":5.5,"n":125},{"b":4.5,"e":5,"n":110},{"b":4,"e":4.5,"n":149},{"b":3.5,"e":4,"n":158},{"b":3,"e":3.5,"n":127},{"b":2.5,"e":3,"n":127},{"b":2,"e":2.5,"n":157},{"b":1.5,"e":2,"n":159},{"b":1,"e":1.5,"n":14},{"b":0.5,"e":1,"n":4},{"b":0,"e":0.5,"n":1}],
"rc":[{"b":11,"e":11.5,"n":14},{"b":10.5,"e":11,"n":58},{"b":10,"e":10.5,"n":53},{"b":9.5,"e":10,"n":40},{"b":9,"e":9.5,"n":40},{"b":8.5,"e":9,"n":56},{"b":8,"e":8.5,"n":74},{"b":7.5,"e":8,"n":98},{"b":7,"e":7.5,"n":125},{"b":6.5,"e":7,"n":136},{"b":6,"e":6.5,"n":141},{"b":5.5,"e":6,"n":151},{"b":5,"e":5.5,"n":138},{"b":4.5,"e":5,"n":119},{"b":4,"e":4.5,"n":159},{"b":3.5,"e":4,"n":155},{"b":3,"e":3.5,"n":116},{"b":2.5,"e":3,"n":109},{"b":2,"e":2.5,"n":109},{"b":1.5,"e":2,"n":50},{"b":1,"e":1.5,"n":8},{"b":0.5,"e":1,"n":2},{"b":0,"e":0.5,"n":1}],
"rd":[{"b":11,"e":11.5,"n":10},{"b":10.5,"e":11,"n":38},{"b":10,"e":10.5,"n":34},{"b":9.5,"e":10,"n":25},{"b":9,"e":9.5,"n":25},{"b":8.5,"e":9,"n":35},{"b":8,"e":8.5,"n":48},{"b":7.5,"e":8,"n":63},{"b":7,"e":7.5,"n":82},{"b":6.5,"e":7,"n":90},{"b":6,"e":6.5,"n":92},{"b":5.5,"e":6,"n":101},{"b":5,"e":5.5,"n":92},{"b":4.5,"e":5,"n":82},{"b":4,"e":4.5,"n":112},{"b":3.5,"e":4,"n":118},{"b":3,"e":3.5,"n":97},{"b":2.5,"e":3,"n":97},{"b":2,"e":2.5,"n":128},{"b":1.5,"e":2,"n":165},{"b":1,"e":1.5,"n":17},{"b":0.5,"e":1,"n":6},{"b":0,"e":0.5,"n":1}],
"be":[{"i":1,"q1":4.72,"m":5.42,"q3":7.03,"lo":4.37,"hi":8.38,"me":5.87},{"i":2,"q1":1.22,"m":1.38,"q3":1.69,"lo":0.6,"hi":2.33,"me":1.52},{"i":3,"q1":1.75,"m":3.19,"q3":5.09,"lo":0.03,"hi":7.88,"me":3.47},{"i":4,"q1":2.07,"m":3.04,"q3":4.14,"lo":0.16,"hi":7.23,"me":3.29},{"i":5,"q1":2.45,"m":3.51,"q3":4.95,"lo":0.03,"hi":8.85,"me":3.8},{"i":6,"q1":3.53,"m":4.86,"q3":6.5,"lo":0,"hi":10.96,"me":5.06},{"i":7,"q1":5.07,"m":6.59,"q3":8.58,"lo":0,"hi":10.98,"me":6.69},{"i":8,"q1":5.43,"m":7.17,"q3":9.2,"lo":0.15,"hi":10.98,"me":7.18},{"i":9,"q1":5.3,"m":6.67,"q3":7.9,"lo":1.46,"hi":10.72,"me":6.67},{"i":10,"q1":5.02,"m":6.28,"q3":7.52,"lo":1.34,"hi":10.48,"me":6.32},{"i":11,"q1":5.23,"m":6.59,"q3":7.77,"lo":1.43,"hi":10.55,"me":6.52},{"i":12,"q1":5.76,"m":7.09,"q3":8.43,"lo":1.9,"hi":10.4,"me":6.99},{"i":13,"q1":6.57,"m":7.81,"q3":9.52,"lo":2.61,"hi":10.6,"me":7.9},{"i":14,"q1":6.9,"m":8.46,"q3":9.88,"lo":4.46,"hi":10.87,"me":8.32},{"i":15,"q1":7.94,"m":9.67,"q3":10.06,"lo":5.65,"hi":10.58,"me":8.96},{"i":16,"q1":6.83,"m":9.16,"q3":9.73,"lo":5.03,"hi":10.48,"me":8.31}],
"bf":[{"i":1,"q1":1.22,"m":1.32,"q3":1.46,"lo":0.93,"hi":1.84,"me":1.36},{"i":2,"q1":1.39,"m":1.72,"q3":2.2,"lo":0.22,"hi":3.39,"me":1.89},{"i":3,"q1":2.06,"m":2.9,"q3":4.08,"lo":0,"hi":7.12,"me":3.23},{"i":4,"q1":3.34,"m":4.2,"q3":5.59,"lo":0,"hi":8.99,"me":4.43},{"i":5,"q1":5.14,"m":6.18,"q3":7.52,"lo":1.6,"hi":11.04,"me":6.27},{"i":6,"q1":5.35,"m":6.9,"q3":8.57,"lo":0.52,"hi":11.1,"me":6.92},{"i":7,"q1":5.85,"m":7.27,"q3":9.3,"lo":0.7,"hi":10.96,"me":7.37},{"i":8,"q1":5.41,"m":6.85,"q3":8.68,"lo":0.8,"hi":10.85,"me":6.97},{"i":9,"q1":6.75,"m":8.25,"q3":9.63,"lo":3.03,"hi":10.9,"me":8.1},{"i":10,"q1":7.4,"m":9.46,"q3":10.12,"lo":4.25,"hi":10.87,"me":8.8},{"i":11,"q1":9.18,"m":9.84,"q3":10.15,"lo":8.65,"hi":10.49,"me":9.23}],
"bg":[{"i":1,"q1":1.95,"m":2.72,"q3":3.73,"lo":0,"hi":6.41,"me":3},{"i":2,"q1":3.53,"m":4.55,"q3":5.85,"lo":0.26,"hi":9.3,"me":4.74},{"i":3,"q1":4.87,"m":5.83,"q3":6.9,"lo":1.84,"hi":9.93,"me":5.9},{"i":4,"q1":5.44,"m":6.67,"q3":7.97,"lo":1.71,"hi":11.19,"me":6.79},{"i":5,"q1":5.84,"m":7.02,"q3":8.53,"lo":1.99,"hi":11.1,"me":7.21},{"i":6,"q1":6.29,"m":7.79,"q3":9.44,"lo":1.42,"hi":10.98,"me":7.81},{"i":7,"q1":6.76,"m":8.54,"q3":9.85,"lo":2.7,"hi":10.87,"me":8.25},{"i":8,"q1":7.04,"m":9.18,"q3":9.97,"lo":3.9,"hi":10.92,"me":8.5},{"i":9,"q1":6.99,"m":9.55,"q3":10.3,"lo":4.98,"hi":10.87,"me":8.64},{"i":10,"q1":6.79,"m":8.8,"q3":9.79,"lo":5.44,"hi":10.35,"me":8.23}],
"bh":[{"i":1,"q1":3.23,"m":3.75,"q3":4.86,"lo":1.08,"hi":7.25,"me":4.1},{"i":2,"q1":1.22,"m":1.42,"q3":1.81,"lo":0.35,"hi":2.74,"me":1.69},{"i":3,"q1":1.4,"m":1.75,"q3":2.24,"lo":0.17,"hi":3.47,"me":1.9},{"i":4,"q1":2.25,"m":3.15,"q3":4.35,"lo":0,"hi":7.49,"me":3.4},{"i":5,"q1":3.26,"m":4.08,"q3":5.45,"lo":0.03,"hi":8.71,"me":4.31},{"i":6,"q1":3.86,"m":5.31,"q3":6.5,"lo":0,"hi":10.48,"me":5.26},{"i":7,"q1":5.34,"m":6.64,"q3":7.94,"lo":1.52,"hi":11.19,"me":6.67},{"i":8,"q1":5.3,"m":6.82,"q3":8.51,"lo":0.52,"hi":10.98,"me":6.86},{"i":9,"q1":5.7,"m":7.12,"q3":9.09,"lo":0.66,"hi":10.84,"me":7.25},{"i":10,"q1":5.79,"m":7.21,"q3":8.78,"lo":1.81,"hi":10.87,"me":7.25},{"i":11,"q1":5.94,"m":7.51,"q3":9.24,"lo":1.81,"hi":10.9,"me":7.48},{"i":12,"q1":6.57,"m":7.77,"q3":9.2,"lo":3.34,"hi":10.82,"me":7.84},{"i":13,"q1":6.88,"m":8.74,"q3":9.91,"lo":4.25,"hi":10.66,"me":8.4},{"i":14,"q1":9,"m":9.93,"q3":10.35,"lo":7.05,"hi":10.5,"me":9.38}],
"oe":[{"i":2,"y":5.48},{"i":2,"y":0.45},{"i":2,"y":0.3},{"i":4,"y":9.88},{"i":4,"y":9.6},{"i":4,"y":9.4},{"i":4,"y":9.25},{"i":4,"y":9.1},{"i":4,"y":8.85},{"i":4,"y":8.65},{"i":4,"y":8.35},{"i":6,"y":11.19},{"i":9,"y":0.6},{"i":9,"y":0.55},{"i":9,"y":0.3},{"i":10,"y":0.85},{"i":10,"y":0.7},{"i":10,"y":0.55},{"i":10,"y":0.4},{"i":11,"y":0.7},{"i":12,"y":1.71},{"i":12,"y":1.1},{"i":12,"y":0.9},{"i":12,"y":0.73},{"i":12,"y":0.43},{"i":15,"y":4.6},{"i":15,"y":4.25}],
"re":[{"i":2,"y":2.33,"y2":3.96},{"i":2,"y":0,"y2":0.2},{"i":4,"y":7.23,"y2":8.2},{"i":5,"y":8.85,"y2":10.78},{"i":6,"y":10.96,"y2":11.25},{"i":9,"y":1,"y2":1.46},{"i":10,"y":1,"y2":1.34},{"i":11,"y":1.08,"y2":1.25}],
"of":[{"i":1,"y":5.97},{"i":1,"y":5.34},{"i":1,"y":4.6},{"i":1,"y":4.17},{"i":1,"y":3.93},{"i":1,"y":3.79},{"i":1,"y":3.55},{"i":1,"y":3.17},{"i":1,"y":3.03},{"i":1,"y":2.88},{"i":2,"y":6.33},{"i":2,"y":6.15},{"i":2,"y":5.9},{"i":2,"y":5.73},{"i":2,"y":5.42},{"i":3,"y":9.55},{"i":3,"y":9.82},{"i":4,"y":10.51},{"i":5,"y":11.19},{"i":7,"y":0.58},{"i":7,"y":0.47},{"i":7,"y":0.31},{"i":9,"y":2.27},{"i":9,"y":1.96},{"i":11,"y":6.9},{"i":11,"y":6.62},{"i":11,"y":5.92}],
"rf":[{"i":1,"y":2.04,"y2":2.39},{"i":1,"y":0,"y2":0.76},{"i":2,"y":3.39,"y2":4.84},{"i":2,"y":0,"y2":0.1},{"i":3,"y":7.12,"y2":8.9},{"i":4,"y":8.99,"y2":10.02},{"i":5,"y":0.06,"y2":1.6},{"i":6,"y":0.15,"y2":0.52}],
"og":[{"i":1,"y":9.3},{"i":1,"y":9.1},{"i":3,"y":0.64},{"i":3,"y":0.5},{"i":3,"y":0.35},{"i":4,"y":1.52},{"i":4,"y":1.4},{"i":4,"y":0.96},{"i":4,"y":0.47},{"i":5,"y":1.81},{"i":5,"y":1.69},{"i":5,"y":1.49},{"i":5,"y":1.11},{"i":5,"y":0.9},{"i":5,"y":0.73},{"i":5,"y":0.43}],
"rg":[{"i":1,"y":6.41,"y2":8.92},{"i":1,"y":9.5,"y2":9.96},{"i":1,"y":10.37,"y2":10.55},{"i":2,"y":9.3,"y2":10.02},{"i":2,"y":10.08,"y2":10.58},{"i":3,"y":9.93,"y2":10.66},{"i":3,"y":0.93,"y2":1.84}],
"oh":[{"i":1,"y":8.07},{"i":1,"y":9.83},{"i":1,"y":10.38},{"i":2,"y":6.6},{"i":2,"y":7.0},{"i":2,"y":7.4},{"i":2,"y":7.75},{"i":2,"y":8.2},{"i":2,"y":8.6},{"i":2,"y":8.9},{"i":2,"y":9.2},{"i":2,"y":9.7},{"i":2,"y":10.3},{"i":2,"y":10.5},{"i":3,"y":7.87},{"i":3,"y":6.95},{"i":3,"y":6.72},{"i":4,"y":9.56},{"i":4,"y":9.79},{"i":4,"y":10.05},{"i":4,"y":10.51},{"i":5,"y":10.17},{"i":5,"y":10.45},{"i":6,"y":10.94},{"i":8,"y":0.35},{"i":8,"y":0.18},{"i":9,"y":0.5},{"i":9,"y":0.35},{"i":14,"y":6.2},{"i":14,"y":5.89},{"i":14,"y":5.7},{"i":14,"y":5.6},{"i":14,"y":5.34},{"i":14,"y":4.56}],
"rh":[{"i":2,"y":2.74,"y2":6.35},{"i":2,"y":0,"y2":0.35},{"i":3,"y":3.47,"y2":6.35},{"i":3,"y":0,"y2":0.17},{"i":4,"y":7.49,"y2":8.68},{"i":5,"y":8.71,"y2":9.9},{"i":7,"y":0.15,"y2":1.52},{"i":14,"y":6.6,"y2":7.05}],
"ne":[{"t":"4","i":1,"y":4.08},{"t":"3670","i":2,"y":2},{"t":"5597","i":3,"y":1.57},{"t":"12487","i":4,"y":4.81},{"t":"12456","i":5,"y":2},{"t":"8673","i":6,"y":7.21},{"t":"5179","i":7,"y":4.28},{"t":"5045","i":8,"y":9.38},{"t":"3511","i":9,"y":4.72},{"t":"4437","i":10,"y":7.98},{"t":"1552","i":11,"y":4.64},{"t":"666","i":12,"y":8.82},{"t":"756","i":13,"y":6.18},{"t":"621","i":14,"y":9.97},{"t":"136","i":15,"y":7.48},{"t":"29","i":16,"y":9.9}],
"nf":[{"t":"1978","i":1,"y":1.01},{"t":"6132","i":2,"y":2.56},{"t":"15120","i":3,"y":1.67},{"t":"17382","i":4,"y":6.04},{"t":"9100","i":5,"y":4.43},{"t":"6024","i":6,"y":9.03},{"t":"6186","i":7,"y":5.33},{"t":"1132","i":8,"y":8.97},{"t":"971","i":9,"y":6.35},{"t":"765","i":10,"y":10.31},{"t":"15","i":11,"y":7.72}],
"ng":[{"t":"17003","i":1,"y":1.57},{"t":"14820","i":2,"y":6.23},{"t":"7172","i":3,"y":4.35},{"t":"4481","i":4,"y":8.54},{"t":"5609","i":5,"y":5.38},{"t":"4568","i":6,"y":9.62},{"t":"1985","i":7,"y":6.47},{"t":"414","i":8,"y":10.2},{"t":"135","i":9,"y":6.7},{"t":"34","i":10,"y":9.94}],
"nh":[{"t":"65","i":1,"y":2.33},{"t":"6381","i":2,"y":2.6},{"t":"6941","i":3,"y":1.13},{"t":"15128","i":4,"y":4.99},{"t":"14662","i":5,"y":2.69},{"t":"6266","i":6,"y":7.1},{"t":"6432","i":7,"y":4.72},{"t":"4889","i":8,"y":9},{"t":"6949","i":9,"y":5.2},{"t":"1330","i":10,"y":9.17},{"t":"780","i":11,"y":5.42},{"t":"608","i":12,"y":9.44},{"t":"686","i":13,"y":6.8},{"t":"265","i":14,"y":10.76}]
},
"vconcat":[
{"concat":[
{"width":8,"height":1,"data":{"values":[{}]},"mark":{"type":"text","text":""},"encoding":{}},
{"width":286,"height":54,"layer":[{"data":{"name":"ta"},"mark":{"type":"rect","fill":"#BEBEBE","stroke":"#404040","strokeWidth":0.8},"encoding":{"x":{"field":"b","type":"quantitative","scale":{"domain":[-7,193],"nice":false,"zero":false},"axis":null},"x2":{"field":"e"},"y":{"field":"n","type":"quantitative","scale":{"domain":[0,162]},"axis":null},"y2":{"datum":0}}},{"data":{"values":[{"t":"types/100km²","x":224.5,"n":116}]},"mark":{"type":"text","align":"right","font":"Liberation Serif","fontSize":29,"color":"#111"},"encoding":{"x":{"field":"x","type":"quantitative"},"y":{"field":"n","type":"quantitative"},"text":{"field":"t"}}}]},
{"width":53,"height":1,"data":{"values":[{}]},"mark":{"type":"text","text":""},"encoding":{}},
{"width":64,"height":1,"data":{"values":[{}]},"mark":{"type":"text","text":""},"encoding":{}},
{"width":286,"height":54,"layer":[{"data":{"name":"tb"},"mark":{"type":"rect","fill":"#BEBEBE","stroke":"#404040","strokeWidth":0.8},"encoding":{"x":{"field":"b","type":"quantitative","scale":{"domain":[-20.3,507],"nice":false,"zero":false},"axis":null},"x2":{"field":"e"},"y":{"field":"n","type":"quantitative","scale":{"domain":[0,162]},"axis":null},"y2":{"datum":0}}},{"data":{"values":[{"t":"types/100km²","x":592,"n":116}]},"mark":{"type":"text","align":"right","font":"Liberation Serif","fontSize":29,"color":"#111"},"encoding":{"x":{"field":"x","type":"quantitative"},"y":{"field":"n","type":"quantitative"},"text":{"field":"t"}}}]},
{"width":53,"height":1,"data":{"values":[{}]},"mark":{"type":"text","text":""},"encoding":{}},
{"width":64,"height":1,"data":{"values":[{}]},"mark":{"type":"text","text":""},"encoding":{}},
{"width":286,"height":54,"layer":[{"data":{"name":"tc"},"mark":{"type":"rect","fill":"#BEBEBE","stroke":"#404040","strokeWidth":0.8},"encoding":{"x":{"field":"b","type":"quantitative","scale":{"domain":[-2,50.6],"nice":false,"zero":false},"axis":null},"x2":{"field":"e"},"y":{"field":"n","type":"quantitative","scale":{"domain":[0,162]},"axis":null},"y2":{"datum":0}}},{"data":{"values":[{"t":"types/100km²","x":57.8,"n":116}]},"mark":{"type":"text","align":"right","font":"Liberation Serif","fontSize":29,"color":"#111"},"encoding":{"x":{"field":"x","type":"quantitative"},"y":{"field":"n","type":"quantitative"},"text":{"field":"t"}}}]},
{"width":53,"height":1,"data":{"values":[{}]},"mark":{"type":"text","text":""},"encoding":{}},
{"width":64,"height":1,"data":{"values":[{}]},"mark":{"type":"text","text":""},"encoding":{}},
{"width":286,"height":54,"layer":[{"data":{"name":"td"},"mark":{"type":"rect","fill":"#BEBEBE","stroke":"#404040","strokeWidth":0.8},"encoding":{"x":{"field":"b","type":"quantitative","scale":{"domain":[-28.3,707.6],"nice":false,"zero":false},"axis":null},"x2":{"field":"e"},"y":{"field":"n","type":"quantitative","scale":{"domain":[0,162]},"axis":null},"y2":{"datum":0}}},{"data":{"values":[{"t":"types/100km²","x":823.5,"n":116}]},"mark":{"type":"text","align":"right","font":"Liberation Serif","fontSize":29,"color":"#111"},"encoding":{"x":{"field":"x","type":"quantitative"},"y":{"field":"n","type":"quantitative"},"text":{"field":"t"}}}]},
{"width":50,"height":1,"data":{"values":[{}]},"mark":{"type":"text","text":""},"encoding":{}},
{"width":8,"height":1,"data":{"values":[{}]},"mark":{"type":"text","text":""},"encoding":{}},
{"width":286,"height":286,"view":{"fill":"#15CBFF","stroke":"#3a6a8a","strokeWidth":1},"title":{"text":"(a)","orient":"bottom","font":"Liberation Serif","fontSize":33,"dx":-5,"offset":3,"anchor":"middle"},"resolve":{"scale":{"x":"independent","y":"independent","fill":"independent","stroke":"independent"}},"layer":[
{"data":{"name":"ha"},"mark":{"type":"rect","strokeWidth":0.6},"encoding":{"x":{"field":"i","type":"ordinal","axis":null,"scale":{"domain":[0,1,2,3,4,5,6,7,8,9,10,11,12,13,14,15,16,17,18,19,20,21,22,23,24,25,26,27,28,29,30],"paddingInner":0,"paddingOuter":0}},"y":{"field":"a","type":"quantitative","axis":null,"scale":{"domain":[0,31]}},"y2":{"field":"b"},"fill":{"field":"v","type":"ordinal","legend":null,"scale":{"domain":[1,2],"range":["#17E2FF","#00E600"]}},"stroke":{"field":"v","type":"ordinal","legend":null,"scale":{"domain":[1,2],"range":["#17E2FF","#00E600"]}}}},
{"data":{"name":"ca"},"mark":{"type":"line","stroke":"#2c4a28","strokeWidth":1.1,"clip":true},"encoding":{"order":{"value":null},"detail":{"field":"p"},"x":{"field":"x","type":"quantitative","scale":{"domain":[-2.7,161.7],"nice":false,"zero":false},"axis":{"labelOverlap":false,"values":[0,50,100,150],"title":"Richness of Mammals","titleFontSize":31.5,"titleY":54,"titleBaseline":"alphabetic","labelFontSize":23,"tickSize":7,"labelPadding":3}},"y":{"field":"y","type":"quantitative","scale":{"domain":[-0.2,12.2],"nice":false,"zero":false},"axis":{"labelOverlap":false,"values":[0,2,4,6,8,10,12],"title":"DHI−c̅u̅m̅","titleFontSize":31,"titleX":-46,"titleBaseline":"alphabetic","labelFontSize":23,"tickSize":7,"labelAngle":-90,"labelAlign":"center","labelBaseline":"bottom","labelPadding":6}},"fill":{"field":"l","type":"ordinal","legend":null,"scale":{"domain":[1,2,3,4,5,6,7,8,9,10],"range":["#05E605","#12E60A","#3CE410","#74E418","#B4E426","#ECE038","#F4D850","#F8DC90","#FBE4BC","#1a1408"]}}}},
{"data":{"name":"la"},"mark":{"type":"text","fontSize":11,"color":"#1f8a5a"},"encoding":{"x":{"field":"x","type":"quantitative","axis":null,"scale":{"domain":[-2.7,161.7],"nice":false,"zero":false}},"y":{"field":"y","type":"quantitative","axis":null,"scale":{"domain":[-0.2,12.2],"nice":false,"zero":false}},"text":{"field":"t"},"angle":{"field":"a","type":"quantitative","scale":null}}}]},
{"width":53,"height":286,"layer":[{"data":{"name":"ra"},"mark":{"type":"rect","fill":"#BEBEBE","stroke":"#404040","strokeWidth":0.8,"clip":true},"encoding":{"x":{"field":"n","type":"quantitative","scale":{"domain":[0,159]},"axis":null},"x2":{"datum":0},"y":{"field":"b","type":"quantitative","scale":{"domain":[-0.466,11.65],"nice":false,"zero":false},"axis":null},"y2":{"field":"e"}}},{"data":{"values":[{"n":0,"b":0,"e":11.48}]},"mark":{"type":"rule","color":"#333","strokeWidth":1},"encoding":{"x":{"field":"n","type":"quantitative"},"y":{"field":"b","type":"quantitative"},"y2":{"field":"e"}}}]},
{"width":64,"height":1,"data":{"values":[{}]},"mark":{"type":"text","text":""},"encoding":{}},
{"width":286,"height":286,"view":{"fill":"#15CBFF","stroke":"#3a6a8a","strokeWidth":1},"title":{"text":"(b)","orient":"bottom","font":"Liberation Serif","fontSize":33,"dx":-8,"offset":3,"anchor":"middle"},"resolve":{"scale":{"x":"independent","y":"independent","fill":"independent","stroke":"independent"}},"layer":[
{"data":{"name":"hb"},"mark":{"type":"rect","strokeWidth":0.6},"encoding":{"x":{"field":"i","type":"ordinal","axis":null,"scale":{"domain":[0,1,2,3,4,5,6,7,8,9,10,11,12,13,14,15,16,17,18,19,20,21,22,23,24,25,26,27,28,29,30],"paddingInner":0,"paddingOuter":0}},"y":{"field":"a","type":"quantitative","axis":null,"scale":{"domain":[0,31]}},"y2":{"field":"b"},"fill":{"field":"v","type":"ordinal","legend":null,"scale":{"domain":[1,2],"range":["#17E2FF","#00E600"]}},"stroke":{"field":"v","type":"ordinal","legend":null,"scale":{"domain":[1,2],"range":["#17E2FF","#00E600"]}}}},
{"data":{"name":"cb"},"mark":{"type":"line","stroke":"#2c4a28","strokeWidth":1.1,"clip":true},"encoding":{"order":{"value":null},"detail":{"field":"p"},"x":{"field":"x","type":"quantitative","scale":{"domain":[-8.5,514],"nice":false,"zero":false},"axis":{"labelOverlap":false,"values":[0,100,200,300,400,500],"labelExpr":"datum.value==200||datum.value==400?'':datum.label","title":"Richness of Birds","titleFontSize":31.5,"titleY":54,"titleBaseline":"alphabetic","labelFontSize":23,"tickSize":7,"labelPadding":3}},"y":{"field":"y","type":"quantitative","scale":{"domain":[-0.2,12.2],"nice":false,"zero":false},"axis":{"labelOverlap":false,"values":[0,2,4,6,8,10,12],"title":"DHI−c̅u̅m̅","titleFontSize":31,"titleX":-45,"titleBaseline":"alphabetic","labelFontSize":23,"tickSize":7,"labelAngle":-90,"labelAlign":"center","labelBaseline":"bottom","labelPadding":6}},"fill":{"field":"l","type":"ordinal","legend":null,"scale":{"domain":[1,2,3,4,5,6,7,8,9,10],"range":["#05E605","#12E60A","#3CE410","#74E418","#B4E426","#ECE038","#F4D850","#F8DC90","#FBE4BC","#5a4a30"]}}}},
{"data":{"name":"lb"},"mark":{"type":"text","fontSize":11,"color":"#1f8a5a"},"encoding":{"x":{"field":"x","type":"quantitative","axis":null,"scale":{"domain":[-8.5,514],"nice":false,"zero":false}},"y":{"field":"y","type":"quantitative","axis":null,"scale":{"domain":[-0.2,12.2],"nice":false,"zero":false}},"text":{"field":"t"},"angle":{"field":"a","type":"quantitative","scale":null}}}]},
{"width":53,"height":286,"layer":[{"data":{"name":"rb"},"mark":{"type":"rect","fill":"#BEBEBE","stroke":"#404040","strokeWidth":0.8,"clip":true},"encoding":{"x":{"field":"n","type":"quantitative","scale":{"domain":[0,159]},"axis":null},"x2":{"datum":0},"y":{"field":"b","type":"quantitative","scale":{"domain":[-0.466,11.65],"nice":false,"zero":false},"axis":null},"y2":{"field":"e"}}},{"data":{"values":[{"n":0,"b":0,"e":11.48}]},"mark":{"type":"rule","color":"#333","strokeWidth":1},"encoding":{"x":{"field":"n","type":"quantitative"},"y":{"field":"b","type":"quantitative"},"y2":{"field":"e"}}}]},
{"width":64,"height":1,"data":{"values":[{}]},"mark":{"type":"text","text":""},"encoding":{}},
{"width":286,"height":286,"view":{"fill":"#15CBFF","stroke":"#3a6a8a","strokeWidth":1},"title":{"text":"(c)","orient":"bottom","font":"Liberation Serif","fontSize":33,"dx":-4,"offset":3,"anchor":"middle"},"resolve":{"scale":{"x":"independent","y":"independent","fill":"independent","stroke":"independent"}},"layer":[
{"data":{"name":"hc"},"mark":{"type":"rect","strokeWidth":0.6},"encoding":{"x":{"field":"i","type":"ordinal","axis":null,"scale":{"domain":[0,1,2,3,4,5,6,7,8,9,10,11,12,13,14,15,16,17,18,19,20,21,22,23,24,25,26,27,28,29,30],"paddingInner":0,"paddingOuter":0}},"y":{"field":"a","type":"quantitative","axis":null,"scale":{"domain":[0,31]}},"y2":{"field":"b"},"fill":{"field":"v","type":"ordinal","legend":null,"scale":{"domain":[1,2],"range":["#17E2FF","#00E600"]}},"stroke":{"field":"v","type":"ordinal","legend":null,"scale":{"domain":[1,2],"range":["#17E2FF","#00E600"]}}}},
{"data":{"name":"cc"},"mark":{"type":"line","stroke":"#2c4a28","strokeWidth":1.1,"clip":true},"encoding":{"order":{"value":null},"detail":{"field":"p"},"x":{"field":"x","type":"quantitative","scale":{"domain":[-0.85,50.8],"nice":false,"zero":false},"axis":{"labelOverlap":false,"values":[0,10,20,30,40,50],"title":"Richness of Amphibians","titleFontSize":31.5,"titleY":54,"titleBaseline":"alphabetic","labelFontSize":23,"tickSize":7,"labelPadding":3}},"y":{"field":"y","type":"quantitative","scale":{"domain":[-0.2,12.2],"nice":false,"zero":false},"axis":{"labelOverlap":false,"values":[0,2,4,6,8,10,12],"title":"DHI−c̅u̅m̅","titleFontSize":31,"titleX":-46,"titleBaseline":"alphabetic","labelFontSize":23,"tickSize":7,"labelAngle":-90,"labelAlign":"center","labelBaseline":"bottom","labelPadding":6}},"fill":{"field":"l","type":"ordinal","legend":null,"scale":{"domain":[1,2,3,4,5,6,7,8,9,10],"range":["#05E605","#12E60A","#3CE410","#74E418","#B4E426","#ECE038","#F4D850","#F8DC90","#FBE4BC","#3a3020"]}}}},
{"data":{"name":"lc"},"mark":{"type":"text","fontSize":11,"color":"#1f8a5a"},"encoding":{"x":{"field":"x","type":"quantitative","axis":null,"scale":{"domain":[-0.85,50.8],"nice":false,"zero":false}},"y":{"field":"y","type":"quantitative","axis":null,"scale":{"domain":[-0.2,12.2],"nice":false,"zero":false}},"text":{"field":"t"},"angle":{"field":"a","type":"quantitative","scale":null}}}]},
{"width":53,"height":286,"layer":[{"data":{"name":"rc"},"mark":{"type":"rect","fill":"#BEBEBE","stroke":"#404040","strokeWidth":0.8,"clip":true},"encoding":{"x":{"field":"n","type":"quantitative","scale":{"domain":[0,159]},"axis":null},"x2":{"datum":0},"y":{"field":"b","type":"quantitative","scale":{"domain":[-0.466,11.65],"nice":false,"zero":false},"axis":null},"y2":{"field":"e"}}},{"data":{"values":[{"n":0,"b":0,"e":11.48}]},"mark":{"type":"rule","color":"#333","strokeWidth":1},"encoding":{"x":{"field":"n","type":"quantitative"},"y":{"field":"b","type":"quantitative"},"y2":{"field":"e"}}}]},
{"width":64,"height":1,"data":{"values":[{}]},"mark":{"type":"text","text":""},"encoding":{}},
{"width":286,"height":286,"view":{"fill":"#15CBFF","stroke":"#3a6a8a","strokeWidth":1},"title":{"text":"(d)","orient":"bottom","font":"Liberation Serif","fontSize":33,"dx":2,"offset":3,"anchor":"middle"},"resolve":{"scale":{"x":"independent","y":"independent","fill":"independent","stroke":"independent"}},"layer":[
{"data":{"name":"hd"},"mark":{"type":"rect","strokeWidth":0.6},"encoding":{"x":{"field":"i","type":"ordinal","axis":null,"scale":{"domain":[0,1,2,3,4,5,6,7,8,9,10,11,12,13,14,15,16,17,18,19,20,21,22,23,24,25,26,27,28,29,30],"paddingInner":0,"paddingOuter":0}},"y":{"field":"a","type":"quantitative","axis":null,"scale":{"domain":[0,31]}},"y2":{"field":"b"},"fill":{"field":"v","type":"ordinal","legend":null,"scale":{"domain":[1,2],"range":["#17E2FF","#00E600"]}},"stroke":{"field":"v","type":"ordinal","legend":null,"scale":{"domain":[1,2],"range":["#17E2FF","#00E600"]}}}},
{"data":{"name":"cd"},"mark":{"type":"line","stroke":"#2c4a28","strokeWidth":1.1,"clip":true},"encoding":{"order":{"value":null},"detail":{"field":"p"},"x":{"field":"x","type":"quantitative","scale":{"domain":[-11.7,708],"nice":false,"zero":false},"axis":{"labelOverlap":false,"values":[0,100,200,300,400,500,600,700],"labelExpr":"datum.value%200==0?datum.label:''","title":"Species Richness","titleFontSize":31.5,"titleY":54,"titleBaseline":"alphabetic","labelFontSize":23,"tickSize":7,"labelPadding":3}},"y":{"field":"y","type":"quantitative","scale":{"domain":[-0.2,12.2],"nice":false,"zero":false},"axis":{"labelOverlap":false,"values":[0,2,4,6,8,10,12],"title":"DHI−c̅u̅m̅","titleFontSize":31,"titleX":-45,"titleBaseline":"alphabetic","labelFontSize":23,"tickSize":7,"labelAngle":-90,"labelAlign":"center","labelBaseline":"bottom","labelPadding":6}},"fill":{"field":"l","type":"ordinal","legend":null,"scale":{"domain":[1,2,3,4,5,6,7,8,9,10],"range":["#05E605","#12E60A","#3CE410","#74E418","#B4E426","#ECE038","#F4D850","#F8DC90","#FBE4BC","#5a4a30"]}}}},
{"data":{"name":"ld"},"mark":{"type":"text","fontSize":11,"color":"#1f8a5a"},"encoding":{"x":{"field":"x","type":"quantitative","axis":null,"scale":{"domain":[-11.7,708],"nice":false,"zero":false}},"y":{"field":"y","type":"quantitative","axis":null,"scale":{"domain":[-0.2,12.2],"nice":false,"zero":false}},"text":{"field":"t"},"angle":{"field":"a","type":"quantitative","scale":null}}}]},
{"width":50,"height":286,"layer":[{"data":{"name":"rd"},"mark":{"type":"rect","fill":"#BEBEBE","stroke":"#404040","strokeWidth":0.8,"clip":true},"encoding":{"x":{"field":"n","type":"quantitative","scale":{"domain":[0,150]},"axis":null},"x2":{"datum":0},"y":{"field":"b","type":"quantitative","scale":{"domain":[-0.466,11.65],"nice":false,"zero":false},"axis":null},"y2":{"field":"e"}}},{"data":{"values":[{"n":0,"b":0,"e":11.48}]},"mark":{"type":"rule","color":"#333","strokeWidth":1},"encoding":{"x":{"field":"n","type":"quantitative"},"y":{"field":"b","type":"quantitative"},"y2":{"field":"e"}}}]}
],"columns":12,"spacing":{"row":7,"column":7},"bounds":"flush"},
{"hconcat":[
{"width":346,"height":346,"view":{"stroke":"#666","strokeWidth":1.3},"title":{"text":"(e)","orient":"bottom","font":"Liberation Serif","fontSize":33,"dx":-13,"offset":0,"anchor":"middle"},"layer":[
{"data":{"name":"be"},"mark":{"type":"rule","strokeDash":[4,4],"color":"#444","strokeWidth":1},"encoding":{"x":{"field":"i","type":"quantitative","scale":{"domain":[-0.15,17.13],"nice":false,"zero":false},"axis":{"labelOverlap":false,"values":[1,2,3,4,5,6,7,8,9,10,11,12,13,14,15,16],"labelExpr":"datum.value==1?'0–10':datum.value==5?'41–50':datum.value==9?'81–90':datum.value==13?'121–130':''","title":"Richness of Mammals","titleFontSize":31.5,"titleY":52,"titleBaseline":"alphabetic","labelFontSize":19,"tickSize":6,"labelPadding":1}},"y":{"field":"lo","type":"quantitative","scale":{"domain":[-0.45,11.63],"nice":false,"zero":false},"axis":{"labelOverlap":false,"values":[0,2,4,6,8,10],"title":"DHI−c̅u̅m̅","titleFontSize":31,"titleX":-31,"titleY":161,"titleBaseline":"alphabetic","labelFontSize":19,"tickSize":8,"labelAngle":-90,"labelAlign":"center","labelBaseline":"bottom","labelPadding":1}},"y2":{"field":"hi"}}},
{"data":{"name":"be"},"mark":{"type":"bar","orient":"vertical","width":16.3,"fill":"white","stroke":"#555","strokeWidth":1.2},"encoding":{"x":{"field":"i","type":"quantitative"},"y":{"field":"q1","type":"quantitative"},"y2":{"field":"q3"}}},
{"data":{"name":"be"},"mark":{"type":"tick","orient":"horizontal","size":8,"thickness":1,"color":"#444"},"encoding":{"x":{"field":"i","type":"quantitative"},"y":{"field":"hi","type":"quantitative"}}},
{"data":{"name":"be"},"mark":{"type":"tick","orient":"horizontal","size":8,"thickness":1,"color":"#444"},"encoding":{"x":{"field":"i","type":"quantitative"},"y":{"field":"lo","type":"quantitative"}}},
{"data":{"name":"be"},"mark":{"type":"tick","orient":"horizontal","size":16.3,"thickness":2.6,"color":"#111"},"encoding":{"x":{"field":"i","type":"quantitative"},"y":{"field":"m","type":"quantitative"}}},
{"data":{"name":"re"},"mark":{"type":"rule","color":"#222","strokeWidth":3.4},"encoding":{"x":{"field":"i","type":"quantitative"},"y":{"field":"y","type":"quantitative"},"y2":{"field":"y2"}}},
{"data":{"name":"oe"},"mark":{"type":"point","shape":"circle","size":12,"stroke":"#333","strokeWidth":1},"encoding":{"x":{"field":"i","type":"quantitative"},"y":{"field":"y","type":"quantitative"}}},
{"data":{"values":[{"x":-0.15,"y":2.8},{"x":17.13,"y":9.3}]},"mark":{"type":"line","color":"#E0262E","strokeWidth":1.8},"encoding":{"x":{"field":"x","type":"quantitative"},"y":{"field":"y","type":"quantitative"}}},
{"data":{"name":"be"},"mark":{"type":"point","shape":"circle","size":24,"stroke":"#E0263A","strokeWidth":1.6},"encoding":{"x":{"field":"i","type":"quantitative"},"y":{"field":"me","type":"quantitative"}}},
{"data":{"name":"ne"},"mark":{"type":"text","fontSize":19,"color":"#222"},"encoding":{"x":{"field":"i","type":"quantitative"},"y":{"field":"y","type":"quantitative"},"text":{"field":"t"}}},
{"data":{"values":[{"i":0.32,"y":11.13}]},"mark":{"type":"point","shape":"circle","size":20,"stroke":"#E0263A","strokeWidth":1.6},"encoding":{"x":{"field":"i","type":"quantitative"},"y":{"field":"y","type":"quantitative"}}},
{"data":{"values":[{"t":"mean","i":0.72,"y":11.13}]},"mark":{"type":"text","align":"left","font":"Liberation Serif","fontSize":34.5,"color":"#111"},"encoding":{"x":{"field":"i","type":"quantitative"},"y":{"field":"y","type":"quantitative"},"text":{"field":"t"}}},
{"data":{"values":[{"t":"R²=0.8538","i":16.5,"y":0.12}]},"mark":{"type":"text","align":"right","font":"Liberation Serif","fontSize":28,"color":"#222"},"encoding":{"x":{"field":"i","type":"quantitative"},"y":{"field":"y","type":"quantitative"},"text":{"field":"t"}}}]},
{"width":346,"height":346,"view":{"stroke":"#666","strokeWidth":1.3},"title":{"text":"( f)","orient":"bottom","font":"Liberation Serif","fontSize":33,"dx":1,"offset":0,"anchor":"middle"},"layer":[
{"data":{"name":"bf"},"mark":{"type":"rule","strokeDash":[4,4],"color":"#444","strokeWidth":1},"encoding":{"x":{"field":"i","type":"quantitative","scale":{"domain":[0.06,11.94],"nice":false,"zero":false},"axis":{"labels":false,"values":[1,2,3,4,5,6,7,8,9,10,11],"title":"Richness of Birds","titleFontSize":31.5,"titleY":52,"titleBaseline":"alphabetic","tickSize":6}},"y":{"field":"lo","type":"quantitative","scale":{"domain":[-0.45,11.63],"nice":false,"zero":false},"axis":{"labelOverlap":false,"values":[0,2,4,6,8,10],"title":"DHI−c̅u̅m̅","titleFontSize":31,"titleX":-39,"titleY":161,"titleBaseline":"alphabetic","labelFontSize":19,"tickSize":8,"labelAngle":-90,"labelAlign":"center","labelBaseline":"bottom","labelPadding":1}},"y2":{"field":"hi"}}},
{"data":{"values":[{"t":"0–50","i":1,"y":-0.9},{"t":"151–200","i":4,"y":-0.9},{"t":"351–400","i":8,"y":-0.9},{"t":">500","i":11,"y":-0.9}]},"mark":{"type":"text","fontSize":19,"color":"#333"},"encoding":{"x":{"field":"i","type":"quantitative"},"y":{"field":"y","type":"quantitative"},"text":{"field":"t"}}},
{"data":{"name":"bf"},"mark":{"type":"bar","orient":"vertical","width":23.7,"fill":"white","stroke":"#555","strokeWidth":1.2},"encoding":{"x":{"field":"i","type":"quantitative"},"y":{"field":"q1","type":"quantitative"},"y2":{"field":"q3"}}},
{"data":{"name":"bf"},"mark":{"type":"tick","orient":"horizontal","size":12,"thickness":1,"color":"#444"},"encoding":{"x":{"field":"i","type":"quantitative"},"y":{"field":"hi","type":"quantitative"}}},
{"data":{"name":"bf"},"mark":{"type":"tick","orient":"horizontal","size":12,"thickness":1,"color":"#444"},"encoding":{"x":{"field":"i","type":"quantitative"},"y":{"field":"lo","type":"quantitative"}}},
{"data":{"name":"bf"},"mark":{"type":"tick","orient":"horizontal","size":23.7,"thickness":2.6,"color":"#111"},"encoding":{"x":{"field":"i","type":"quantitative"},"y":{"field":"m","type":"quantitative"}}},
{"data":{"name":"rf"},"mark":{"type":"rule","color":"#222","strokeWidth":3.4},"encoding":{"x":{"field":"i","type":"quantitative"},"y":{"field":"y","type":"quantitative"},"y2":{"field":"y2"}}},
{"data":{"name":"of"},"mark":{"type":"point","shape":"circle","size":12,"stroke":"#333","strokeWidth":1},"encoding":{"x":{"field":"i","type":"quantitative"},"y":{"field":"y","type":"quantitative"}}},
{"data":{"values":[{"x":0.06,"y":1.14},{"x":11.94,"y":10.6}]},"mark":{"type":"line","color":"#E0262E","strokeWidth":1.8},"encoding":{"x":{"field":"x","type":"quantitative"},"y":{"field":"y","type":"quantitative"}}},
{"data":{"name":"bf"},"mark":{"type":"point","shape":"circle","size":24,"stroke":"#E0263A","strokeWidth":1.6},"encoding":{"x":{"field":"i","type":"quantitative"},"y":{"field":"me","type":"quantitative"}}},
{"data":{"name":"nf"},"mark":{"type":"text","fontSize":19,"color":"#222"},"encoding":{"x":{"field":"i","type":"quantitative"},"y":{"field":"y","type":"quantitative"},"text":{"field":"t"}}},
{"data":{"values":[{"i":0.38,"y":11.13}]},"mark":{"type":"point","shape":"circle","size":20,"stroke":"#E0263A","strokeWidth":1.6},"encoding":{"x":{"field":"i","type":"quantitative"},"y":{"field":"y","type":"quantitative"}}},
{"data":{"values":[{"t":"mean","i":0.66,"y":11.13}]},"mark":{"type":"text","align":"left","font":"Liberation Serif","fontSize":34.5,"color":"#111"},"encoding":{"x":{"field":"i","type":"quantitative"},"y":{"field":"y","type":"quantitative"},"text":{"field":"t"}}},
{"data":{"values":[{"t":"R²=0.9289","i":11.48,"y":0.12}]},"mark":{"type":"text","align":"right","font":"Liberation Serif","fontSize":28,"color":"#222"},"encoding":{"x":{"field":"i","type":"quantitative"},"y":{"field":"y","type":"quantitative"},"text":{"field":"t"}}}]},
{"width":346,"height":346,"view":{"stroke":"#666","strokeWidth":1.3},"title":{"text":"(g)","orient":"bottom","font":"Liberation Serif","fontSize":33,"dx":-21,"offset":0,"anchor":"middle"},"layer":[
{"data":{"name":"bg"},"mark":{"type":"rule","strokeDash":[4,4],"color":"#444","strokeWidth":1},"encoding":{"x":{"field":"i","type":"quantitative","scale":{"domain":[0.07,11.95],"nice":false,"zero":false},"axis":{"labels":false,"values":[1,2,3,4,5,6,7,8,9,10,11],"title":"Richness of Amphibians","titleFontSize":31.5,"titleY":52,"titleBaseline":"alphabetic","tickSize":6}},"y":{"field":"lo","type":"quantitative","scale":{"domain":[-0.45,11.63],"nice":false,"zero":false},"axis":{"labelOverlap":false,"values":[0,2,4,6,8,10],"title":"DHI−c̅u̅m̅","titleFontSize":31,"titleX":-35,"titleY":161,"titleBaseline":"alphabetic","labelFontSize":19,"tickSize":8,"labelAngle":-90,"labelAlign":"center","labelBaseline":"bottom","labelPadding":1}},"y2":{"field":"hi"}}},
{"data":{"values":[{"t":"0–5","i":1,"y":-0.9},{"t":"11–15","i":3,"y":-0.9},{"t":"26–30","i":6,"y":-0.9},{"t":"41–45","i":9,"y":-0.9},{"t":">50","i":11,"y":-0.9}]},"mark":{"type":"text","fontSize":19,"color":"#333"},"encoding":{"x":{"field":"i","type":"quantitative"},"y":{"field":"y","type":"quantitative"},"text":{"field":"t"}}},
{"data":{"name":"bg"},"mark":{"type":"bar","orient":"vertical","width":23.7,"fill":"white","stroke":"#555","strokeWidth":1.2},"encoding":{"x":{"field":"i","type":"quantitative"},"y":{"field":"q1","type":"quantitative"},"y2":{"field":"q3"}}},
{"data":{"name":"bg"},"mark":{"type":"tick","orient":"horizontal","size":12,"thickness":1,"color":"#444"},"encoding":{"x":{"field":"i","type":"quantitative"},"y":{"field":"hi","type":"quantitative"}}},
{"data":{"name":"bg"},"mark":{"type":"tick","orient":"horizontal","size":12,"thickness":1,"color":"#444"},"encoding":{"x":{"field":"i","type":"quantitative"},"y":{"field":"lo","type":"quantitative"}}},
{"data":{"name":"bg"},"mark":{"type":"tick","orient":"horizontal","size":23.7,"thickness":2.6,"color":"#111"},"encoding":{"x":{"field":"i","type":"quantitative"},"y":{"field":"m","type":"quantitative"}}},
{"data":{"name":"rg"},"mark":{"type":"rule","color":"#222","strokeWidth":3.4},"encoding":{"x":{"field":"i","type":"quantitative"},"y":{"field":"y","type":"quantitative"},"y2":{"field":"y2"}}},
{"data":{"name":"og"},"mark":{"type":"point","shape":"circle","size":12,"stroke":"#333","strokeWidth":1},"encoding":{"x":{"field":"i","type":"quantitative"},"y":{"field":"y","type":"quantitative"}}},
{"data":{"values":[{"x":0.07,"y":3.88},{"x":11.95,"y":10.49}]},"mark":{"type":"line","color":"#E0262E","strokeWidth":1.8},"encoding":{"x":{"field":"x","type":"quantitative"},"y":{"field":"y","type":"quantitative"}}},
{"data":{"name":"bg"},"mark":{"type":"point","shape":"circle","size":24,"stroke":"#E0263A","strokeWidth":1.6},"encoding":{"x":{"field":"i","type":"quantitative"},"y":{"field":"me","type":"quantitative"}}},
{"data":{"name":"ng"},"mark":{"type":"text","fontSize":19,"color":"#222"},"encoding":{"x":{"field":"i","type":"quantitative"},"y":{"field":"y","type":"quantitative"},"text":{"field":"t"}}},
{"data":{"values":[{"i":0.48,"y":11.13}]},"mark":{"type":"point","shape":"circle","size":20,"stroke":"#E0263A","strokeWidth":1.6},"encoding":{"x":{"field":"i","type":"quantitative"},"y":{"field":"y","type":"quantitative"}}},
{"data":{"values":[{"t":"mean","i":0.76,"y":11.13}]},"mark":{"type":"text","align":"left","font":"Liberation Serif","fontSize":34.5,"color":"#111"},"encoding":{"x":{"field":"i","type":"quantitative"},"y":{"field":"y","type":"quantitative"},"text":{"field":"t"}}},
{"data":{"values":[{"t":"R²=0.8124","i":11.47,"y":0.12}]},"mark":{"type":"text","align":"right","font":"Liberation Serif","fontSize":28,"color":"#222"},"encoding":{"x":{"field":"i","type":"quantitative"},"y":{"field":"y","type":"quantitative"},"text":{"field":"t"}}}]},
{"width":346,"height":346,"view":{"stroke":"#666","strokeWidth":1.3},"title":{"text":"(h)","orient":"bottom","font":"Liberation Serif","fontSize":33,"dx":10,"offset":0,"anchor":"middle"},"layer":[
{"data":{"name":"bh"},"mark":{"type":"rule","strokeDash":[4,4],"color":"#444","strokeWidth":1},"encoding":{"x":{"field":"i","type":"quantitative","scale":{"domain":[-0.06,15.07],"nice":false,"zero":false},"axis":{"labelOverlap":false,"values":[1,2,3,4,5,6,7,8,9,10,11,12,13,14],"labelExpr":"datum.value==1?'0–50':datum.value==5?'201–250':datum.value==9?'401–450':datum.value==13?'601–650':''","title":"Species Richness","titleFontSize":31.5,"titleY":52,"titleBaseline":"alphabetic","labelFontSize":19,"tickSize":6,"labelPadding":1}},"y":{"field":"lo","type":"quantitative","scale":{"domain":[-0.45,11.63],"nice":false,"zero":false},"axis":{"labelOverlap":false,"values":[0,2,4,6,8,10],"title":"DHI−c̅u̅m̅","titleFontSize":31,"titleX":-35,"titleY":161,"titleBaseline":"alphabetic","labelFontSize":19,"tickSize":8,"labelAngle":-90,"labelAlign":"center","labelBaseline":"bottom","labelPadding":1}},"y2":{"field":"hi"}}},
{"data":{"name":"bh"},"mark":{"type":"bar","orient":"vertical","width":18.7,"fill":"white","stroke":"#555","strokeWidth":1.2},"encoding":{"x":{"field":"i","type":"quantitative"},"y":{"field":"q1","type":"quantitative"},"y2":{"field":"q3"}}},
{"data":{"name":"bh"},"mark":{"type":"tick","orient":"horizontal","size":10,"thickness":1,"color":"#444"},"encoding":{"x":{"field":"i","type":"quantitative"},"y":{"field":"hi","type":"quantitative"}}},
{"data":{"name":"bh"},"mark":{"type":"tick","orient":"horizontal","size":10,"thickness":1,"color":"#444"},"encoding":{"x":{"field":"i","type":"quantitative"},"y":{"field":"lo","type":"quantitative"}}},
{"data":{"name":"bh"},"mark":{"type":"tick","orient":"horizontal","size":18.7,"thickness":2.6,"color":"#111"},"encoding":{"x":{"field":"i","type":"quantitative"},"y":{"field":"m","type":"quantitative"}}},
{"data":{"name":"rh"},"mark":{"type":"rule","color":"#222","strokeWidth":3.4},"encoding":{"x":{"field":"i","type":"quantitative"},"y":{"field":"y","type":"quantitative"},"y2":{"field":"y2"}}},
{"data":{"name":"oh"},"mark":{"type":"point","shape":"circle","size":12,"stroke":"#333","strokeWidth":1},"encoding":{"x":{"field":"i","type":"quantitative"},"y":{"field":"y","type":"quantitative"}}},
{"data":{"values":[{"x":-0.06,"y":1.77},{"x":15.07,"y":9.91}]},"mark":{"type":"line","color":"#E0262E","strokeWidth":1.8},"encoding":{"x":{"field":"x","type":"quantitative"},"y":{"field":"y","type":"quantitative"}}},
{"data":{"name":"bh"},"mark":{"type":"point","shape":"circle","size":24,"stroke":"#E0263A","strokeWidth":1.6},"encoding":{"x":{"field":"i","type":"quantitative"},"y":{"field":"me","type":"quantitative"}}},
{"data":{"name":"nh"},"mark":{"type":"text","fontSize":19,"color":"#222"},"encoding":{"x":{"field":"i","type":"quantitative"},"y":{"field":"y","type":"quantitative"},"text":{"field":"t"}}},
{"data":{"values":[{"i":0.36,"y":11.13}]},"mark":{"type":"point","shape":"circle","size":20,"stroke":"#E0263A","strokeWidth":1.6},"encoding":{"x":{"field":"i","type":"quantitative"},"y":{"field":"y","type":"quantitative"}}},
{"data":{"values":[{"t":"mean","i":0.72,"y":11.13}]},"mark":{"type":"text","align":"left","font":"Liberation Serif","fontSize":34.5,"color":"#111"},"encoding":{"x":{"field":"i","type":"quantitative"},"y":{"field":"y","type":"quantitative"},"text":{"field":"t"}}},
{"data":{"values":[{"t":"R²=0.8611","i":14.62,"y":0.12}]},"mark":{"type":"text","align":"right","font":"Liberation Serif","fontSize":28,"color":"#222"},"encoding":{"x":{"field":"i","type":"quantitative"},"y":{"field":"y","type":"quantitative"},"text":{"field":"t"}}}]}
],"spacing":78,"bounds":"flush"}
],"spacing":9}
